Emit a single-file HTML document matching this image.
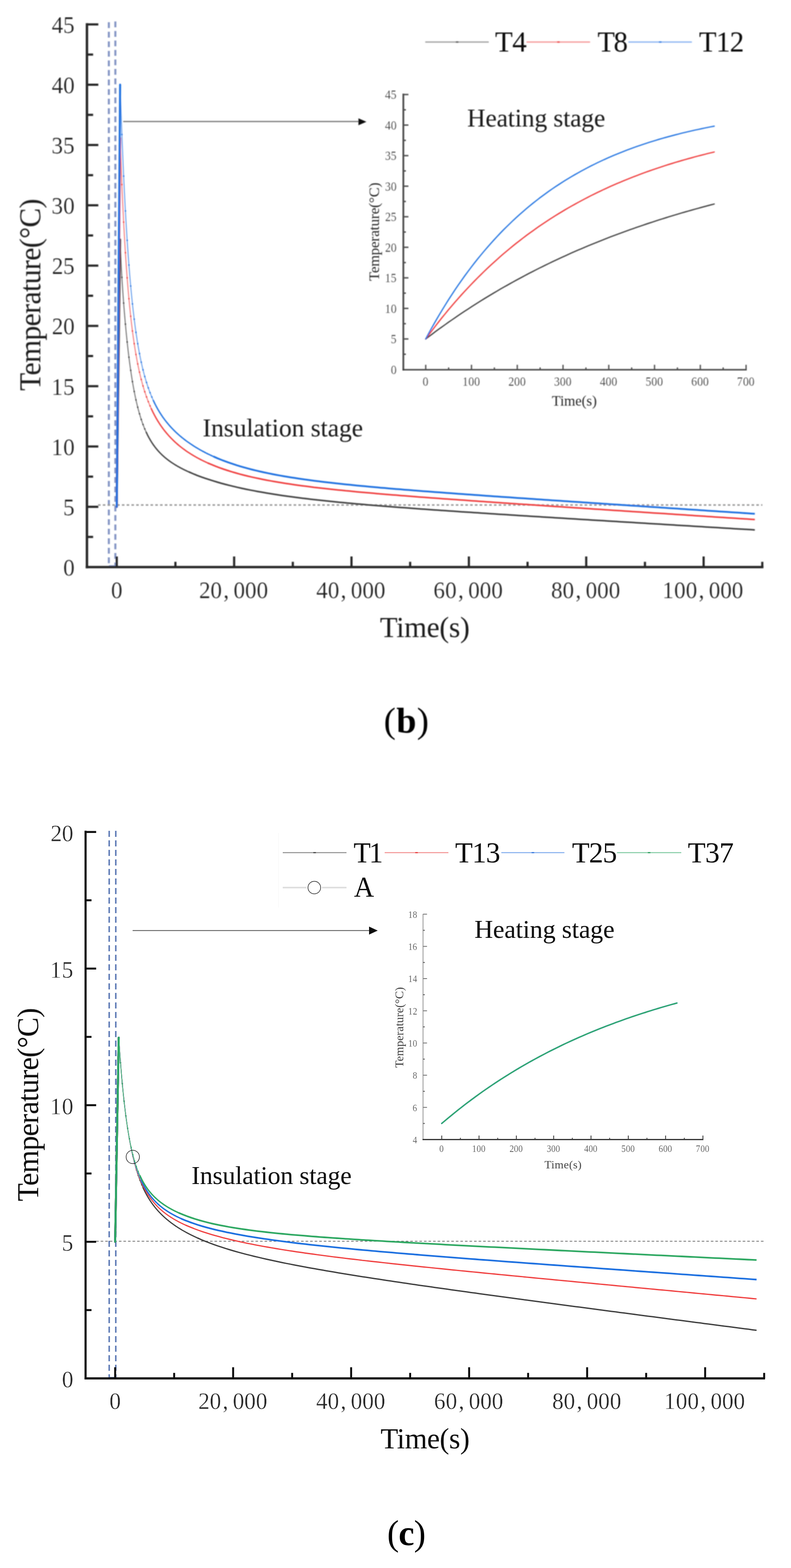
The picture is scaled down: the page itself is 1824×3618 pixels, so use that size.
<!DOCTYPE html>
<html lang="en">
<head>
<meta charset="utf-8">
<title>Temperature curves (b) and (c)</title>
<style>
html,body{margin:0;padding:0;background:#fff;}
body{width:1824px;height:3618px;overflow:hidden;}
svg{display:block;}
svg text{font-family:'Liberation Serif', 'DejaVu Serif', serif;white-space:pre;}
</style>
</head>
<body>
<svg width="1824" height="3618" viewBox="0 0 1824 3618">
<rect width="1824" height="3618" fill="#ffffff"/>
<defs><filter id="soft1" x="0" y="0" width="1824" height="1800" filterUnits="userSpaceOnUse"><feGaussianBlur stdDeviation="0.9"/></filter><filter id="soft2" x="0" y="1800" width="1824" height="1818" filterUnits="userSpaceOnUse"><feGaussianBlur stdDeviation="0.5"/></filter></defs>
<g id="chart-b" filter="url(#soft1)">
<line x1="251.0" y1="51.3" x2="251.0" y2="1307.0" stroke="#8495c5" stroke-width="4.7" stroke-dasharray="13.4 8.65"/>
<line x1="266.0" y1="49.6" x2="266.0" y2="1307.0" stroke="#8495c5" stroke-width="4.7" stroke-dasharray="13.4 8.5"/>
<line x1="251.0" y1="1306.0" x2="266.0" y2="1306.0" stroke="#8495c5" stroke-width="3.4" />
<line x1="226.0" y1="1165.3" x2="1758.0" y2="1165.3" stroke="#9c9c9c" stroke-width="3.4" stroke-dasharray="6 5"/>
<path d="M277.0,552.8 L277.0,553.6 L277.1,554.4 L277.1,555.2 L277.1,556.0 L277.1,556.8 L277.2,557.6 L277.2,558.4 L277.2,559.2 L277.2,560.0 L277.3,560.8 L277.3,561.6 L277.3,562.4 L277.4,563.2 L277.4,564.0 L277.4,564.9 L277.5,565.7 L277.5,566.5 L277.5,567.3 L277.5,568.2 L277.6,569.0 L277.6,569.8 L277.6,570.7 L277.7,571.5 L277.7,572.3 L277.7,573.2 L277.8,574.0 L277.8,574.9 L277.8,575.7 L277.9,576.6 L277.9,577.4 L277.9,578.3 L278.0,579.1 L278.0,580.0 L278.1,580.9 L278.1,581.7 L278.1,582.6 L278.2,583.5 L278.2,584.3 L278.2,585.2 L278.3,586.1 L278.3,586.9 L278.4,587.8 L278.4,588.7 L278.4,589.6 L278.5,590.5 L278.5,591.4 L278.5,592.3 L278.6,593.2 L278.6,594.1 L278.7,595.0 L278.7,595.9 L278.8,596.8 L278.8,597.7 L278.8,598.6 L278.9,599.5 L278.9,600.4 L279.0,601.3 L279.0,602.2 L279.1,603.2 L279.1,604.1 L279.1,605.0 L279.2,605.9 L279.2,606.9 L279.3,607.8 L279.3,608.8 L279.4,609.7 L279.4,610.6 L279.5,611.6 L279.5,612.5 L279.6,613.5 L279.6,614.4 L279.7,615.4 L279.7,616.4 L279.8,617.3 L279.8,618.3 L279.9,619.3 L279.9,620.2 L280.0,621.2 L280.0,622.2 L280.1,623.2 L280.1,624.2 L280.2,625.1 L280.3,626.1 L280.3,627.1 L280.4,628.1 L280.4,629.1 L280.5,630.1 L280.5,631.2 L280.6,632.2 L280.7,633.2 L280.7,634.2 L280.8,635.2 L280.8,636.3 L280.9,637.3 L281.0,638.3 L281.0,639.4 L281.1,640.4 L281.1,641.4 L281.2,642.5 L281.3,643.5 L281.3,644.6 L281.4,645.7 L281.5,646.7 L281.5,647.8 L281.6,648.9 L281.7,650.0 L281.7,651.0 L281.8,652.1 L281.9,653.2 L281.9,654.3 L282.0,655.4 L282.1,656.5 L282.2,657.6 L282.2,658.7 L282.3,659.8 L282.4,661.0 L282.5,662.1 L282.5,663.2 L282.6,664.4 L282.7,665.5 L282.8,666.6 L282.8,667.8 L282.9,668.9 L283.0,670.1 L283.1,671.3 L283.2,672.4 L283.2,673.6 L283.3,674.8 L283.4,676.0 L283.5,677.2 L283.6,678.4 L283.7,679.6 L283.7,680.8 L283.8,682.0 L283.9,683.2 L284.0,684.4 L284.1,685.6 L284.2,686.9 L284.3,688.1 L284.4,689.3 L284.5,690.6 L284.6,691.8 L284.6,693.1 L284.7,694.4 L284.8,695.6 L284.9,696.9 L285.0,698.2 L285.1,699.5 L285.2,700.7 L285.3,702.0 L285.4,703.3 L285.5,704.6 L285.6,706.0 L285.7,707.3 L285.8,708.6 L285.9,709.9 L286.1,711.3 L286.2,712.6 L286.3,713.9 L286.4,715.3 L286.5,716.6 L286.6,718.0 L286.7,719.4 L286.8,720.7 L286.9,722.1 L287.1,723.5 L287.2,724.9 L287.3,726.3 L287.4,727.7 L287.5,729.1 L287.6,730.5 L287.8,731.9 L287.9,733.3 L288.0,734.8 L288.1,736.2 L288.3,737.6 L288.4,739.1 L288.5,740.5 L288.6,742.0 L288.8,743.4 L288.9,744.9 L289.0,746.4 L289.2,747.8 L289.3,749.3 L289.4,750.8 L289.6,752.3 L289.7,753.8 L289.9,755.3 L290.0,756.8 L290.1,758.3 L290.3,759.8 L290.4,761.3 L290.6,762.8 L290.7,764.4 L290.9,765.9 L291.0,767.4 L291.2,769.0 L291.3,770.5 L291.5,772.1 L291.6,773.6 L291.8,775.2 L292.0,776.8 L292.1,778.3 L292.3,779.9 L292.4,781.5 L292.6,783.0 L292.8,784.6 L292.9,786.2 L293.1,787.8 L293.3,789.4 L293.4,791.0 L293.6,792.6 L293.8,794.2 L294.0,795.8 L294.1,797.4 L294.3,799.0 L294.5,800.7 L294.7,802.3 L294.9,803.9 L295.1,805.5 L295.2,807.2 L295.4,808.8 L295.6,810.4 L295.8,812.1 L296.0,813.7 L296.2,815.4 L296.4,817.0 L296.6,818.7 L296.8,820.3 L297.0,822.0 L297.2,823.6 L297.4,825.3 L297.6,826.9 L297.8,828.6 L298.1,830.3 L298.3,831.9 L298.5,833.6 L298.7,835.3 L298.9,836.9 L299.1,838.6 L299.4,840.3 L299.6,841.9 L299.8,843.6 L300.1,845.3 L300.3,847.0 L300.5,848.6 L300.8,850.3 L301.0,852.0 L301.2,853.7 L301.5,855.3 L301.7,857.0 L302.0,858.7 L302.2,860.4 L302.5,862.0 L302.7,863.7 L303.0,865.4 L303.2,867.0 L303.5,868.7 L303.8,870.4 L304.0,872.0 L304.3,873.7 L304.6,875.4 L304.8,877.0 L305.1,878.7 L305.4,880.4 L305.7,882.0 L305.9,883.7 L306.2,885.3 L306.5,887.0 L306.8,888.6 L307.1,890.3 L307.4,891.9 L307.7,893.6 L308.0,895.2 L308.3,896.9 L308.6,898.5 L308.9,900.1 L309.2,901.8 L309.5,903.4 L309.8,905.0 L310.2,906.6 L310.5,908.2 L310.8,909.9 L311.1,911.5 L311.5,913.1 L311.8,914.7 L312.1,916.3 L312.5,917.9 L312.8,919.4 L313.2,921.0 L313.5,922.6 L313.9,924.2 L314.2,925.7 L314.6,927.3 L314.9,928.9 L315.3,930.4 L315.7,932.0 L316.0,933.5 L316.4,935.1 L316.8,936.6 L317.2,938.1 L317.5,939.6 L317.9,941.1 L318.3,942.7 L318.7,944.2 L319.1,945.7 L319.5,947.1 L319.9,948.6 L320.3,950.1 L320.7,951.6 L321.2,953.0 L321.6,954.5 L322.0,956.0 L322.4,957.4 L322.9,958.8 L323.3,960.3 L323.7,961.7 L324.2,963.1 L324.6,964.5 L325.1,965.9 L325.5,967.3 L326.0,968.7 L326.5,970.1 L326.9,971.5 L327.4,972.8 L327.9,974.2 L328.3,975.5 L328.8,976.9 L329.3,978.2 L329.8,979.6 L330.3,980.9 L330.8,982.2 L331.3,983.5 L331.8,984.8 L332.3,986.1 L332.9,987.4 L333.4,988.6 L333.9,989.9 L334.4,991.2 L335.0,992.4 L335.5,993.7 L336.1,994.9 L336.6,996.1 L337.2,997.3 L337.7,998.5 L338.3,999.7" fill="none" stroke="#666666" stroke-width="2.1" stroke-linejoin="round" />
<path d="M269.2,1169.4 L277.0,552.8" fill="none" stroke="#3d3d3d" stroke-width="4.6" stroke-linejoin="round" stroke-linecap="round"/>
<path d="M281.1,640.0h0M285.1,699.3h0M289.2,747.9h0M293.2,789.1h0M297.3,824.3h0M301.4,854.5h0M305.4,880.6h0M309.5,903.2h0M313.5,922.8h0M317.6,939.8h0M321.7,954.8h0M325.7,967.9h0M329.8,979.5h0M333.8,989.7h0" fill="none" stroke="#3d3d3d" stroke-width="3.6" stroke-linecap="round"/>
<path d="M337.2,997.3 L337.7,998.5 L338.3,999.7 L338.9,1000.9 L339.5,1002.1 L340.0,1003.3 L340.6,1004.5 L341.2,1005.6 L341.8,1006.8 L342.4,1007.9 L343.0,1009.1 L343.6,1010.2 L344.3,1011.3 L344.9,1012.4 L345.5,1013.5 L346.2,1014.6 L346.8,1015.7 L347.4,1016.8 L348.1,1017.9 L348.8,1018.9 L349.4,1020.0 L350.1,1021.1 L350.8,1022.1 L351.5,1023.1 L352.1,1024.2 L352.8,1025.2 L353.5,1026.2 L354.2,1027.2 L355.0,1028.2 L355.7,1029.2 L356.4,1030.2 L357.1,1031.1 L357.9,1032.1 L358.6,1033.1 L359.4,1034.0 L360.1,1035.0 L360.9,1035.9 L361.7,1036.8 L362.5,1037.8 L363.2,1038.7 L364.0,1039.6 L364.8,1040.5 L365.7,1041.4 L366.5,1042.3 L367.3,1043.2 L368.1,1044.1 L369.0,1044.9 L369.8,1045.8 L370.7,1046.7 L371.5,1047.5 L372.4,1048.4 L373.3,1049.2 L374.1,1050.1 L375.0,1050.9 L375.9,1051.7 L376.8,1052.5 L377.8,1053.3 L378.7,1054.2 L379.6,1055.0 L380.5,1055.8 L381.5,1056.6 L382.5,1057.3 L383.4,1058.1 L384.4,1058.9 L385.4,1059.7 L386.4,1060.5 L387.4,1061.2 L388.4,1062.0 L389.4,1062.7 L390.4,1063.5 L391.5,1064.2 L392.5,1065.0 L393.6,1065.7 L394.6,1066.5 L395.7,1067.2 L396.8,1067.9 L397.9,1068.6 L399.0,1069.4 L400.1,1070.1 L401.2,1070.8 L402.3,1071.5 L403.5,1072.2 L404.6,1072.9 L405.8,1073.6 L407.0,1074.3 L408.1,1075.0 L409.3,1075.7 L410.5,1076.4 L411.8,1077.1 L413.0,1077.7 L414.2,1078.4 L415.5,1079.1 L416.7,1079.8 L418.0,1080.4 L419.3,1081.1 L420.6,1081.8 L421.9,1082.4 L423.2,1083.1 L424.5,1083.8 L425.9,1084.4 L427.2,1085.1 L428.6,1085.7 L429.9,1086.4 L431.3,1087.0 L432.7,1087.7 L434.1,1088.3 L435.6,1088.9 L437.0,1089.6" fill="none" stroke="#3d3d3d" stroke-width="3.0" stroke-linejoin="round" stroke-linecap="round"/>
<path d="M435.6,1088.9 L445.0,1093.0 L454.3,1096.8 L463.7,1100.3 L473.1,1103.6 L482.5,1106.7 L491.9,1109.7 L501.3,1112.5 L510.7,1115.2 L520.1,1117.7 L529.5,1120.1 L538.8,1122.4 L548.2,1124.6 L557.6,1126.7 L567.0,1128.7 L576.4,1130.6 L585.8,1132.4 L595.2,1134.2 L604.6,1135.8 L614.0,1137.5 L623.3,1139.0 L632.7,1140.5 L642.1,1142.0 L651.5,1143.4 L660.9,1144.7 L670.3,1146.0 L679.7,1147.3 L689.1,1148.5 L698.5,1149.7 L707.8,1150.8 L717.2,1151.9 L726.6,1153.0 L736.0,1154.1 L745.4,1155.1 L754.8,1156.1 L764.2,1157.0 L773.6,1158.0 L783.0,1158.9 L792.3,1159.8 L801.7,1160.7 L811.1,1161.6 L820.5,1162.4 L829.9,1163.3 L839.3,1164.1 L848.7,1164.9 L858.1,1165.7 L867.5,1166.5 L876.8,1167.2 L886.2,1168.0 L895.6,1168.7 L905.0,1169.5 L914.4,1170.2 L923.8,1170.9 L933.2,1171.6 L942.6,1172.3 L951.9,1173.0 L961.3,1173.7 L970.7,1174.4 L980.1,1175.0 L989.5,1175.7 L998.9,1176.4 L1008.3,1177.0 L1017.7,1177.7 L1027.1,1178.3 L1036.4,1179.0 L1045.8,1179.6 L1055.2,1180.2 L1064.6,1180.9 L1074.0,1181.5 L1083.4,1182.1 L1092.8,1182.7 L1102.2,1183.3 L1111.6,1184.0 L1120.9,1184.6 L1130.3,1185.2 L1139.7,1185.8 L1149.1,1186.4 L1158.5,1187.0 L1167.9,1187.6 L1177.3,1188.2 L1186.7,1188.8 L1196.1,1189.4 L1205.4,1190.0 L1214.8,1190.6 L1224.2,1191.2 L1233.6,1191.7 L1243.0,1192.3 L1252.4,1192.9 L1261.8,1193.5 L1271.2,1194.1 L1280.6,1194.7 L1289.9,1195.3 L1299.3,1195.8 L1308.7,1196.4 L1318.1,1197.0 L1327.5,1197.6 L1336.9,1198.2 L1346.3,1198.7 L1355.7,1199.3 L1365.1,1199.9 L1374.4,1200.5 L1383.8,1201.0 L1393.2,1201.6 L1402.6,1202.2 L1412.0,1202.8 L1421.4,1203.3 L1430.8,1203.9 L1440.2,1204.5 L1449.6,1205.1 L1458.9,1205.6 L1468.3,1206.2 L1477.7,1206.8 L1487.1,1207.3 L1496.5,1207.9 L1505.9,1208.5 L1515.3,1209.1 L1524.7,1209.6 L1534.0,1210.2 L1543.4,1210.8 L1552.8,1211.3 L1562.2,1211.9 L1571.6,1212.5 L1581.0,1213.0 L1590.4,1213.6 L1599.8,1214.2 L1609.2,1214.7 L1618.5,1215.3 L1627.9,1215.9 L1637.3,1216.5 L1646.7,1217.0 L1656.1,1217.6 L1665.5,1218.2 L1674.9,1218.7 L1684.3,1219.3 L1693.7,1219.9 L1703.0,1220.4 L1712.4,1221.0 L1721.8,1221.6 L1731.2,1222.1 L1740.6,1222.7" fill="none" stroke="#3d3d3d" stroke-width="3.5" stroke-linejoin="round" stroke-linecap="butt"/>
<path d="M277.0,318.6 L277.0,319.4 L277.1,320.2 L277.1,321.0 L277.1,321.8 L277.1,322.6 L277.2,323.4 L277.2,324.2 L277.2,325.1 L277.2,325.9 L277.3,326.7 L277.3,327.6 L277.3,328.4 L277.4,329.3 L277.4,330.1 L277.4,331.0 L277.5,331.9 L277.5,332.8 L277.5,333.7 L277.5,334.6 L277.6,335.5 L277.6,336.4 L277.6,337.3 L277.7,338.2 L277.7,339.1 L277.7,340.1 L277.8,341.0 L277.8,342.0 L277.8,342.9 L277.9,343.9 L277.9,344.8 L277.9,345.8 L278.0,346.8 L278.0,347.8 L278.1,348.8 L278.1,349.8 L278.1,350.8 L278.2,351.8 L278.2,352.8 L278.2,353.9 L278.3,354.9 L278.3,355.9 L278.4,357.0 L278.4,358.0 L278.4,359.1 L278.5,360.2 L278.5,361.3 L278.5,362.4 L278.6,363.4 L278.6,364.5 L278.7,365.7 L278.7,366.8 L278.8,367.9 L278.8,369.0 L278.8,370.2 L278.9,371.3 L278.9,372.5 L279.0,373.6 L279.0,374.8 L279.1,376.0 L279.1,377.2 L279.1,378.3 L279.2,379.5 L279.2,380.8 L279.3,382.0 L279.3,383.2 L279.4,384.4 L279.4,385.7 L279.5,386.9 L279.5,388.2 L279.6,389.4 L279.6,390.7 L279.7,392.0 L279.7,393.2 L279.8,394.5 L279.8,395.8 L279.9,397.2 L279.9,398.5 L280.0,399.8 L280.0,401.1 L280.1,402.5 L280.1,403.8 L280.2,405.2 L280.3,406.5 L280.3,407.9 L280.4,409.3 L280.4,410.7 L280.5,412.1 L280.5,413.5 L280.6,414.9 L280.7,416.3 L280.7,417.7 L280.8,419.2 L280.8,420.6 L280.9,422.1 L281.0,423.5 L281.0,425.0 L281.1,426.5 L281.1,428.0 L281.2,429.5 L281.3,431.0 L281.3,432.5 L281.4,434.0 L281.5,435.5 L281.5,437.1 L281.6,438.6 L281.7,440.2 L281.7,441.7 L281.8,443.3 L281.9,444.9 L281.9,446.5 L282.0,448.1 L282.1,449.7 L282.2,451.3 L282.2,452.9 L282.3,454.5 L282.4,456.2 L282.5,457.8 L282.5,459.5 L282.6,461.1 L282.7,462.8 L282.8,464.5 L282.8,466.1 L282.9,467.8 L283.0,469.5 L283.1,471.3 L283.2,473.0 L283.2,474.7 L283.3,476.4 L283.4,478.2 L283.5,479.9 L283.6,481.7 L283.7,483.4 L283.7,485.2 L283.8,487.0 L283.9,488.8 L284.0,490.6 L284.1,492.4 L284.2,494.2 L284.3,496.0 L284.4,497.8 L284.5,499.7 L284.6,501.5 L284.6,503.4 L284.7,505.2 L284.8,507.1 L284.9,509.0 L285.0,510.8 L285.1,512.7 L285.2,514.6 L285.3,516.5 L285.4,518.4 L285.5,520.3 L285.6,522.3 L285.7,524.2 L285.8,526.1 L285.9,528.1 L286.1,530.0 L286.2,532.0 L286.3,534.0 L286.4,535.9 L286.5,537.9 L286.6,539.9 L286.7,541.9 L286.8,543.9 L286.9,545.9 L287.1,547.9 L287.2,549.9 L287.3,552.0 L287.4,554.0 L287.5,556.0 L287.6,558.1 L287.8,560.1 L287.9,562.2 L288.0,564.2 L288.1,566.3 L288.3,568.4 L288.4,570.4 L288.5,572.5 L288.6,574.6 L288.8,576.7 L288.9,578.8 L289.0,580.9 L289.2,583.0 L289.3,585.1 L289.4,587.3 L289.6,589.4 L289.7,591.5 L289.9,593.6 L290.0,595.8 L290.1,597.9 L290.3,600.1 L290.4,602.2 L290.6,604.4 L290.7,606.5 L290.9,608.7 L291.0,610.9 L291.2,613.0 L291.3,615.2 L291.5,617.4 L291.6,619.6 L291.8,621.8 L292.0,624.0 L292.1,626.2 L292.3,628.4 L292.4,630.5 L292.6,632.8 L292.8,635.0 L292.9,637.2 L293.1,639.4 L293.3,641.6 L293.4,643.8 L293.6,646.0 L293.8,648.2 L294.0,650.5 L294.1,652.7 L294.3,654.9 L294.5,657.1 L294.7,659.4 L294.9,661.6 L295.1,663.8 L295.2,666.0 L295.4,668.3 L295.6,670.5 L295.8,672.7 L296.0,675.0 L296.2,677.2 L296.4,679.4 L296.6,681.7 L296.8,683.9 L297.0,686.2 L297.2,688.4 L297.4,690.6 L297.6,692.9 L297.8,695.1 L298.1,697.3 L298.3,699.6 L298.5,701.8 L298.7,704.0 L298.9,706.3 L299.1,708.5 L299.4,710.7 L299.6,712.9 L299.8,715.2 L300.1,717.4 L300.3,719.6 L300.5,721.8 L300.8,724.1 L301.0,726.3 L301.2,728.5 L301.5,730.7 L301.7,732.9 L302.0,735.1 L302.2,737.3 L302.5,739.5 L302.7,741.7 L303.0,743.9 L303.2,746.1 L303.5,748.3 L303.8,750.5 L304.0,752.6 L304.3,754.8 L304.6,757.0 L304.8,759.1 L305.1,761.3 L305.4,763.5 L305.7,765.6 L305.9,767.8 L306.2,769.9 L306.5,772.1 L306.8,774.2 L307.1,776.3 L307.4,778.5 L307.7,780.6 L308.0,782.7 L308.3,784.8 L308.6,786.9 L308.9,789.0 L309.2,791.1 L309.5,793.2 L309.8,795.3 L310.2,797.4 L310.5,799.4 L310.8,801.5 L311.1,803.6 L311.5,805.6 L311.8,807.7 L312.1,809.7 L312.5,811.8 L312.8,813.8 L313.2,815.8 L313.5,817.8 L313.9,819.8 L314.2,821.8 L314.6,823.8 L314.9,825.8 L315.3,827.8 L315.7,829.8 L316.0,831.7 L316.4,833.7 L316.8,835.7 L317.2,837.6 L317.5,839.5 L317.9,841.5 L318.3,843.4 L318.7,845.3 L319.1,847.2 L319.5,849.1 L319.9,851.0 L320.3,852.9 L320.7,854.8 L321.2,856.6 L321.6,858.5 L322.0,860.4 L322.4,862.2 L322.9,864.0 L323.3,865.9 L323.7,867.7 L324.2,869.5 L324.6,871.3 L325.1,873.1 L325.5,874.9 L326.0,876.7 L326.5,878.5 L326.9,880.2 L327.4,882.0 L327.9,883.7 L328.3,885.5 L328.8,887.2 L329.3,888.9 L329.8,890.6 L330.3,892.4 L330.8,894.1 L331.3,895.7 L331.8,897.4 L332.3,899.1 L332.9,900.8 L333.4,902.4 L333.9,904.1 L334.4,905.7 L335.0,907.4 L335.5,909.0 L336.1,910.6 L336.6,912.2 L337.2,913.8 L337.7,915.4 L338.3,917.0 L338.9,918.6 L339.5,920.2 L340.0,921.7 L340.6,923.3 L341.2,924.8 L341.8,926.4 L342.4,927.9 L343.0,929.4 L343.6,930.9 L344.3,932.4 L344.9,933.9 L345.5,935.4 L346.2,936.9 L346.8,938.4 L347.4,939.9 L348.1,941.3 L348.8,942.8 L349.4,944.2 L350.1,945.7" fill="none" stroke="#f27272" stroke-width="2.1" stroke-linejoin="round" />
<path d="M269.2,1169.4 L277.0,318.6" fill="none" stroke="#ef3a3a" stroke-width="4.6" stroke-linejoin="round" stroke-linecap="round"/>
<path d="M281.1,425.9h0M285.1,512.5h0M289.2,583.1h0M293.2,641.1h0M297.3,689.3h0M301.4,729.7h0M305.4,763.8h0M309.5,792.9h0M313.5,818.0h0M317.6,839.8h0M321.7,858.8h0M325.7,875.6h0M329.8,890.5h0M333.8,903.9h0M337.9,915.9h0M342.0,926.7h0M346.0,936.6h0" fill="none" stroke="#ef3a3a" stroke-width="3.6" stroke-linecap="round"/>
<path d="M348.8,942.8 L349.4,944.2 L350.1,945.7 L350.8,947.1 L351.5,948.5 L352.1,949.9 L352.8,951.3 L353.5,952.7 L354.2,954.1 L355.0,955.5 L355.7,956.9 L356.4,958.3 L357.1,959.6 L357.9,961.0 L358.6,962.3 L359.4,963.7 L360.1,965.0 L360.9,966.4 L361.7,967.7 L362.5,969.0 L363.2,970.3 L364.0,971.6 L364.8,972.9 L365.7,974.2 L366.5,975.5 L367.3,976.8 L368.1,978.0 L369.0,979.3 L369.8,980.6 L370.7,981.8 L371.5,983.0 L372.4,984.3 L373.3,985.5 L374.1,986.7 L375.0,988.0 L375.9,989.2 L376.8,990.4 L377.8,991.6 L378.7,992.8 L379.6,994.0 L380.5,995.2 L381.5,996.3 L382.5,997.5 L383.4,998.7 L384.4,999.8 L385.4,1001.0 L386.4,1002.1 L387.4,1003.3 L388.4,1004.4 L389.4,1005.6 L390.4,1006.7 L391.5,1007.8 L392.5,1008.9 L393.6,1010.0 L394.6,1011.1 L395.7,1012.2 L396.8,1013.3 L397.9,1014.4 L399.0,1015.5 L400.1,1016.6 L401.2,1017.6 L402.3,1018.7 L403.5,1019.8 L404.6,1020.8 L405.8,1021.9 L407.0,1022.9 L408.1,1024.0 L409.3,1025.0 L410.5,1026.0 L411.8,1027.1 L413.0,1028.1 L414.2,1029.1 L415.5,1030.1 L416.7,1031.1 L418.0,1032.1 L419.3,1033.1 L420.6,1034.1 L421.9,1035.1 L423.2,1036.1 L424.5,1037.0 L425.9,1038.0 L427.2,1039.0 L428.6,1040.0 L429.9,1040.9 L431.3,1041.9 L432.7,1042.8 L434.1,1043.8 L435.6,1044.7 L437.0,1045.6 L438.5,1046.6 L439.9,1047.5 L441.4,1048.4 L442.9,1049.3 L444.4,1050.2 L445.9,1051.1 L447.4,1052.0 L449.0,1052.9 L450.5,1053.8 L452.1,1054.7 L453.7,1055.6 L455.3,1056.5 L456.9,1057.3 L458.5,1058.2 L460.2,1059.1 L461.8,1059.9 L463.5,1060.8 L465.2,1061.7 L466.9,1062.5 L468.6,1063.3 L470.3,1064.2 L472.1,1065.0 L473.8,1065.8 L475.6,1066.7 L477.4,1067.5 L479.2,1068.3 L481.1,1069.1" fill="none" stroke="#ef3a3a" stroke-width="3.0" stroke-linejoin="round" stroke-linecap="round"/>
<path d="M479.2,1068.3 L488.3,1072.2 L497.4,1075.9 L506.5,1079.3 L515.5,1082.5 L524.6,1085.5 L533.7,1088.4 L542.7,1091.0 L551.8,1093.6 L560.9,1096.0 L570.0,1098.2 L579.0,1100.4 L588.1,1102.4 L597.2,1104.3 L606.3,1106.2 L615.3,1108.0 L624.4,1109.6 L633.5,1111.3 L642.6,1112.8 L651.6,1114.3 L660.7,1115.7 L669.8,1117.1 L678.9,1118.4 L687.9,1119.7 L697.0,1120.9 L706.1,1122.1 L715.2,1123.2 L724.2,1124.4 L733.3,1125.4 L742.4,1126.5 L751.5,1127.5 L760.5,1128.5 L769.6,1129.5 L778.7,1130.4 L787.8,1131.3 L796.8,1132.3 L805.9,1133.1 L815.0,1134.0 L824.1,1134.9 L833.1,1135.7 L842.2,1136.5 L851.3,1137.3 L860.4,1138.1 L869.4,1138.9 L878.5,1139.7 L887.6,1140.4 L896.7,1141.2 L905.7,1141.9 L914.8,1142.6 L923.9,1143.4 L933.0,1144.1 L942.0,1144.8 L951.1,1145.5 L960.2,1146.2 L969.3,1146.9 L978.3,1147.5 L987.4,1148.2 L996.5,1148.9 L1005.6,1149.6 L1014.6,1150.2 L1023.7,1150.9 L1032.8,1151.5 L1041.9,1152.2 L1050.9,1152.8 L1060.0,1153.5 L1069.1,1154.1 L1078.2,1154.8 L1087.2,1155.4 L1096.3,1156.0 L1105.4,1156.7 L1114.5,1157.3 L1123.5,1157.9 L1132.6,1158.6 L1141.7,1159.2 L1150.7,1159.8 L1159.8,1160.4 L1168.9,1161.0 L1178.0,1161.7 L1187.0,1162.3 L1196.1,1162.9 L1205.2,1163.5 L1214.3,1164.1 L1223.3,1164.7 L1232.4,1165.3 L1241.5,1165.9 L1250.6,1166.6 L1259.6,1167.2 L1268.7,1167.8 L1277.8,1168.4 L1286.9,1169.0 L1295.9,1169.6 L1305.0,1170.2 L1314.1,1170.8 L1323.2,1171.4 L1332.2,1172.0 L1341.3,1172.6 L1350.4,1173.2 L1359.5,1173.8 L1368.5,1174.4 L1377.6,1175.0 L1386.7,1175.6 L1395.8,1176.2 L1404.8,1176.8 L1413.9,1177.4 L1423.0,1178.0 L1432.1,1178.6 L1441.1,1179.2 L1450.2,1179.8 L1459.3,1180.4 L1468.4,1181.0 L1477.4,1181.6 L1486.5,1182.2 L1495.6,1182.8 L1504.7,1183.4 L1513.7,1184.0 L1522.8,1184.5 L1531.9,1185.1 L1541.0,1185.7 L1550.0,1186.3 L1559.1,1186.9 L1568.2,1187.5 L1577.3,1188.1 L1586.3,1188.7 L1595.4,1189.3 L1604.5,1189.9 L1613.6,1190.5 L1622.6,1191.1 L1631.7,1191.7 L1640.8,1192.3 L1649.9,1192.9 L1658.9,1193.5 L1668.0,1194.1 L1677.1,1194.7 L1686.2,1195.2 L1695.2,1195.8 L1704.3,1196.4 L1713.4,1197.0 L1722.5,1197.6 L1731.5,1198.2 L1740.6,1198.8" fill="none" stroke="#ef3a3a" stroke-width="3.5" stroke-linejoin="round" stroke-linecap="butt"/>
<path d="M277.0,195.3 L277.0,196.1 L277.1,197.0 L277.1,197.8 L277.1,198.6 L277.1,199.5 L277.2,200.4 L277.2,201.2 L277.2,202.1 L277.2,203.0 L277.3,203.9 L277.3,204.8 L277.3,205.7 L277.4,206.6 L277.4,207.5 L277.4,208.4 L277.5,209.3 L277.5,210.3 L277.5,211.2 L277.5,212.1 L277.6,213.1 L277.6,214.1 L277.6,215.0 L277.7,216.0 L277.7,217.0 L277.7,218.0 L277.8,219.0 L277.8,220.0 L277.8,221.0 L277.9,222.0 L277.9,223.0 L277.9,224.1 L278.0,225.1 L278.0,226.2 L278.1,227.2 L278.1,228.3 L278.1,229.4 L278.2,230.4 L278.2,231.5 L278.2,232.6 L278.3,233.7 L278.3,234.9 L278.4,236.0 L278.4,237.1 L278.4,238.2 L278.5,239.4 L278.5,240.5 L278.5,241.7 L278.6,242.9 L278.6,244.0 L278.7,245.2 L278.7,246.4 L278.8,247.6 L278.8,248.8 L278.8,250.1 L278.9,251.3 L278.9,252.5 L279.0,253.8 L279.0,255.0 L279.1,256.3 L279.1,257.6 L279.1,258.8 L279.2,260.1 L279.2,261.4 L279.3,262.7 L279.3,264.0 L279.4,265.4 L279.4,266.7 L279.5,268.0 L279.5,269.4 L279.6,270.7 L279.6,272.1 L279.7,273.5 L279.7,274.9 L279.8,276.3 L279.8,277.7 L279.9,279.1 L279.9,280.5 L280.0,282.0 L280.0,283.4 L280.1,284.8 L280.1,286.3 L280.2,287.8 L280.3,289.3 L280.3,290.7 L280.4,292.2 L280.4,293.8 L280.5,295.3 L280.5,296.8 L280.6,298.3 L280.7,299.9 L280.7,301.4 L280.8,303.0 L280.8,304.6 L280.9,306.2 L281.0,307.8 L281.0,309.4 L281.1,311.0 L281.1,312.6 L281.2,314.2 L281.3,315.9 L281.3,317.5 L281.4,319.2 L281.5,320.9 L281.5,322.6 L281.6,324.3 L281.7,326.0 L281.7,327.7 L281.8,329.4 L281.9,331.1 L281.9,332.9 L282.0,334.6 L282.1,336.4 L282.2,338.2 L282.2,340.0 L282.3,341.8 L282.4,343.6 L282.5,345.4 L282.5,347.2 L282.6,349.0 L282.7,350.9 L282.8,352.7 L282.8,354.6 L282.9,356.5 L283.0,358.4 L283.1,360.3 L283.2,362.2 L283.2,364.1 L283.3,366.0 L283.4,367.9 L283.5,369.9 L283.6,371.8 L283.7,373.8 L283.7,375.8 L283.8,377.8 L283.9,379.8 L284.0,381.8 L284.1,383.8 L284.2,385.8 L284.3,387.8 L284.4,389.9 L284.5,392.0 L284.6,394.0 L284.6,396.1 L284.7,398.2 L284.8,400.3 L284.9,402.4 L285.0,404.5 L285.1,406.6 L285.2,408.8 L285.3,410.9 L285.4,413.1 L285.5,415.2 L285.6,417.4 L285.7,419.6 L285.8,421.8 L285.9,424.0 L286.1,426.2 L286.2,428.4 L286.3,430.6 L286.4,432.9 L286.5,435.1 L286.6,437.4 L286.7,439.6 L286.8,441.9 L286.9,444.2 L287.1,446.5 L287.2,448.8 L287.3,451.1 L287.4,453.4 L287.5,455.7 L287.6,458.1 L287.8,460.4 L287.9,462.8 L288.0,465.1 L288.1,467.5 L288.3,469.9 L288.4,472.3 L288.5,474.7 L288.6,477.1 L288.8,479.5 L288.9,481.9 L289.0,484.3 L289.2,486.8 L289.3,489.2 L289.4,491.7 L289.6,494.1 L289.7,496.6 L289.9,499.1 L290.0,501.5 L290.1,504.0 L290.3,506.5 L290.4,509.0 L290.6,511.5 L290.7,514.0 L290.9,516.6 L291.0,519.1 L291.2,521.6 L291.3,524.1 L291.5,526.7 L291.6,529.2 L291.8,531.8 L292.0,534.4 L292.1,536.9 L292.3,539.5 L292.4,542.1 L292.6,544.7 L292.8,547.2 L292.9,549.8 L293.1,552.4 L293.3,555.0 L293.4,557.6 L293.6,560.3 L293.8,562.9 L294.0,565.5 L294.1,568.1 L294.3,570.7 L294.5,573.4 L294.7,576.0 L294.9,578.7 L295.1,581.3 L295.2,583.9 L295.4,586.6 L295.6,589.2 L295.8,591.9 L296.0,594.5 L296.2,597.2 L296.4,599.9 L296.6,602.5 L296.8,605.2 L297.0,607.9 L297.2,610.5 L297.4,613.2 L297.6,615.9 L297.8,618.5 L298.1,621.2 L298.3,623.9 L298.5,626.5 L298.7,629.2 L298.9,631.9 L299.1,634.6 L299.4,637.2 L299.6,639.9 L299.8,642.6 L300.1,645.2 L300.3,647.9 L300.5,650.6 L300.8,653.2 L301.0,655.9 L301.2,658.6 L301.5,661.2 L301.7,663.9 L302.0,666.6 L302.2,669.2 L302.5,671.9 L302.7,674.5 L303.0,677.2 L303.2,679.8 L303.5,682.5 L303.8,685.1 L304.0,687.7 L304.3,690.4 L304.6,693.0 L304.8,695.6 L305.1,698.2 L305.4,700.8 L305.7,703.4 L305.9,706.0 L306.2,708.6 L306.5,711.2 L306.8,713.8 L307.1,716.4 L307.4,719.0 L307.7,721.6 L308.0,724.1 L308.3,726.7 L308.6,729.2 L308.9,731.8 L309.2,734.3 L309.5,736.8 L309.8,739.4 L310.2,741.9 L310.5,744.4 L310.8,746.9 L311.1,749.4 L311.5,751.9 L311.8,754.3 L312.1,756.8 L312.5,759.3 L312.8,761.7 L313.2,764.2 L313.5,766.6 L313.9,769.0 L314.2,771.5 L314.6,773.9 L314.9,776.3 L315.3,778.7 L315.7,781.0 L316.0,783.4 L316.4,785.8 L316.8,788.1 L317.2,790.5 L317.5,792.8 L317.9,795.1 L318.3,797.4 L318.7,799.7 L319.1,802.0 L319.5,804.3 L319.9,806.5 L320.3,808.8 L320.7,811.0 L321.2,813.3 L321.6,815.5 L322.0,817.7 L322.4,819.9 L322.9,822.1 L323.3,824.3 L323.7,826.4 L324.2,828.6 L324.6,830.7 L325.1,832.9 L325.5,835.0 L326.0,837.1 L326.5,839.2 L326.9,841.2 L327.4,843.3 L327.9,845.4 L328.3,847.4 L328.8,849.4 L329.3,851.5 L329.8,853.5 L330.3,855.5 L330.8,857.5 L331.3,859.4 L331.8,861.4 L332.3,863.3 L332.9,865.3 L333.4,867.2 L333.9,869.1 L334.4,871.0 L335.0,872.9 L335.5,874.8 L336.1,876.6 L336.6,878.5 L337.2,880.3 L337.7,882.1 L338.3,883.9 L338.9,885.7 L339.5,887.5 L340.0,889.3 L340.6,891.1 L341.2,892.8 L341.8,894.6 L342.4,896.3 L343.0,898.0 L343.6,899.7 L344.3,901.4 L344.9,903.1 L345.5,904.8 L346.2,906.4 L346.8,908.1 L347.4,909.7 L348.1,911.3 L348.8,912.9 L349.4,914.5 L350.1,916.1 L350.8,917.7 L351.5,919.3 L352.1,920.8 L352.8,922.4 L353.5,923.9 L354.2,925.4 L355.0,927.0" fill="none" stroke="#5a96ea" stroke-width="2.1" stroke-linejoin="round" />
<path d="M269.2,1169.4 L277.0,195.3" fill="none" stroke="#1f6fe0" stroke-width="4.6" stroke-linejoin="round" stroke-linecap="round"/>
<path d="M281.1,310.4h0M285.1,406.4h0M289.2,486.8h0M293.2,554.5h0M297.3,611.6h0M301.4,660.0h0M305.4,701.2h0M309.5,736.5h0M313.5,766.9h0M317.6,793.1h0M321.7,815.9h0M325.7,835.8h0M329.8,853.4h0M333.8,868.9h0M337.9,882.6h0M342.0,895.0h0M346.0,906.1h0M350.1,916.1h0" fill="none" stroke="#1f6fe0" stroke-width="3.6" stroke-linecap="round"/>
<path d="M353.5,923.9 L354.2,925.4 L355.0,927.0 L355.7,928.5 L356.4,930.0 L357.1,931.5 L357.9,932.9 L358.6,934.4 L359.4,935.9 L360.1,937.3 L360.9,938.7 L361.7,940.2 L362.5,941.6 L363.2,943.0 L364.0,944.4 L364.8,945.8 L365.7,947.2 L366.5,948.5 L367.3,949.9 L368.1,951.3 L369.0,952.6 L369.8,953.9 L370.7,955.3 L371.5,956.6 L372.4,957.9 L373.3,959.2 L374.1,960.5 L375.0,961.8 L375.9,963.1 L376.8,964.4 L377.8,965.6 L378.7,966.9 L379.6,968.2 L380.5,969.4 L381.5,970.6 L382.5,971.9 L383.4,973.1 L384.4,974.3 L385.4,975.5 L386.4,976.7 L387.4,977.9 L388.4,979.1 L389.4,980.3 L390.4,981.5 L391.5,982.7 L392.5,983.9 L393.6,985.0 L394.6,986.2 L395.7,987.3 L396.8,988.5 L397.9,989.6 L399.0,990.8 L400.1,991.9 L401.2,993.0 L402.3,994.1 L403.5,995.2 L404.6,996.4 L405.8,997.5 L407.0,998.6 L408.1,999.7 L409.3,1000.7 L410.5,1001.8 L411.8,1002.9 L413.0,1004.0 L414.2,1005.1 L415.5,1006.1 L416.7,1007.2 L418.0,1008.3 L419.3,1009.3 L420.6,1010.4 L421.9,1011.4 L423.2,1012.4 L424.5,1013.5 L425.9,1014.5 L427.2,1015.5 L428.6,1016.6 L429.9,1017.6 L431.3,1018.6 L432.7,1019.6 L434.1,1020.6 L435.6,1021.6 L437.0,1022.6 L438.5,1023.6 L439.9,1024.6 L441.4,1025.6 L442.9,1026.6 L444.4,1027.6 L445.9,1028.6 L447.4,1029.5 L449.0,1030.5 L450.5,1031.5 L452.1,1032.4 L453.7,1033.4 L455.3,1034.3 L456.9,1035.3 L458.5,1036.2 L460.2,1037.2 L461.8,1038.1 L463.5,1039.0 L465.2,1040.0 L466.9,1040.9 L468.6,1041.8 L470.3,1042.7 L472.1,1043.6 L473.8,1044.6 L475.6,1045.5 L477.4,1046.4 L479.2,1047.3 L481.1,1048.2 L482.9,1049.0 L484.8,1049.9 L486.6,1050.8 L488.5,1051.7 L490.4,1052.6 L492.4,1053.4 L494.3,1054.3" fill="none" stroke="#1f6fe0" stroke-width="3.0" stroke-linejoin="round" stroke-linecap="round"/>
<path d="M492.4,1053.4 L501.3,1057.3 L510.3,1061.0 L519.3,1064.4 L528.3,1067.7 L537.3,1070.7 L546.2,1073.6 L555.2,1076.3 L564.2,1078.9 L573.2,1081.4 L582.2,1083.7 L591.1,1085.9 L600.1,1088.0 L609.1,1090.0 L618.1,1091.9 L627.1,1093.7 L636.0,1095.5 L645.0,1097.1 L654.0,1098.7 L663.0,1100.2 L672.0,1101.7 L680.9,1103.1 L689.9,1104.5 L698.9,1105.8 L707.9,1107.0 L716.9,1108.3 L725.8,1109.4 L734.8,1110.6 L743.8,1111.7 L752.8,1112.8 L761.8,1113.8 L770.7,1114.8 L779.7,1115.8 L788.7,1116.8 L797.7,1117.7 L806.7,1118.6 L815.6,1119.5 L824.6,1120.4 L833.6,1121.3 L842.6,1122.1 L851.6,1122.9 L860.5,1123.8 L869.5,1124.6 L878.5,1125.4 L887.5,1126.1 L896.5,1126.9 L905.4,1127.7 L914.4,1128.4 L923.4,1129.1 L932.4,1129.9 L941.4,1130.6 L950.3,1131.3 L959.3,1132.0 L968.3,1132.7 L977.3,1133.4 L986.3,1134.1 L995.2,1134.8 L1004.2,1135.4 L1013.2,1136.1 L1022.2,1136.8 L1031.2,1137.4 L1040.1,1138.1 L1049.1,1138.8 L1058.1,1139.4 L1067.1,1140.1 L1076.1,1140.7 L1085.0,1141.3 L1094.0,1142.0 L1103.0,1142.6 L1112.0,1143.3 L1121.0,1143.9 L1129.9,1144.5 L1138.9,1145.2 L1147.9,1145.8 L1156.9,1146.4 L1165.9,1147.0 L1174.8,1147.6 L1183.8,1148.3 L1192.8,1148.9 L1201.8,1149.5 L1210.8,1150.1 L1219.7,1150.7 L1228.7,1151.3 L1237.7,1152.0 L1246.7,1152.6 L1255.7,1153.2 L1264.7,1153.8 L1273.6,1154.4 L1282.6,1155.0 L1291.6,1155.6 L1300.6,1156.2 L1309.6,1156.8 L1318.5,1157.4 L1327.5,1158.0 L1336.5,1158.6 L1345.5,1159.2 L1354.5,1159.8 L1363.4,1160.4 L1372.4,1161.0 L1381.4,1161.6 L1390.4,1162.2 L1399.4,1162.8 L1408.3,1163.4 L1417.3,1164.0 L1426.3,1164.6 L1435.3,1165.2 L1444.3,1165.8 L1453.2,1166.4 L1462.2,1167.0 L1471.2,1167.6 L1480.2,1168.2 L1489.2,1168.8 L1498.1,1169.4 L1507.1,1170.0 L1516.1,1170.6 L1525.1,1171.2 L1534.1,1171.8 L1543.0,1172.4 L1552.0,1173.0 L1561.0,1173.6 L1570.0,1174.2 L1579.0,1174.8 L1587.9,1175.4 L1596.9,1176.0 L1605.9,1176.6 L1614.9,1177.2 L1623.9,1177.8 L1632.8,1178.4 L1641.8,1179.0 L1650.8,1179.6 L1659.8,1180.2 L1668.8,1180.7 L1677.7,1181.3 L1686.7,1181.9 L1695.7,1182.5 L1704.7,1183.1 L1713.7,1183.7 L1722.6,1184.3 L1731.6,1184.9 L1740.6,1185.5" fill="none" stroke="#1f6fe0" stroke-width="4.0" stroke-linejoin="round" stroke-linecap="butt"/>
<line x1="200.5" y1="53.6" x2="200.5" y2="1311.2" stroke="#262626" stroke-width="5.6" />
<line x1="197.7" y1="1308.5" x2="1760.4" y2="1308.5" stroke="#262626" stroke-width="5.6" />
<line x1="200.5" y1="1238.9" x2="214.7" y2="1238.9" stroke="#262626" stroke-width="5.0" />
<line x1="200.5" y1="1169.4" x2="226.7" y2="1169.4" stroke="#262626" stroke-width="5.0" />
<line x1="200.5" y1="1099.8" x2="214.7" y2="1099.8" stroke="#262626" stroke-width="5.0" />
<line x1="200.5" y1="1030.2" x2="226.7" y2="1030.2" stroke="#262626" stroke-width="5.0" />
<line x1="200.5" y1="960.7" x2="214.7" y2="960.7" stroke="#262626" stroke-width="5.0" />
<line x1="200.5" y1="891.1" x2="226.7" y2="891.1" stroke="#262626" stroke-width="5.0" />
<line x1="200.5" y1="821.5" x2="214.7" y2="821.5" stroke="#262626" stroke-width="5.0" />
<line x1="200.5" y1="752.0" x2="226.7" y2="752.0" stroke="#262626" stroke-width="5.0" />
<line x1="200.5" y1="682.4" x2="214.7" y2="682.4" stroke="#262626" stroke-width="5.0" />
<line x1="200.5" y1="612.9" x2="226.7" y2="612.9" stroke="#262626" stroke-width="5.0" />
<line x1="200.5" y1="543.3" x2="214.7" y2="543.3" stroke="#262626" stroke-width="5.0" />
<line x1="200.5" y1="473.7" x2="226.7" y2="473.7" stroke="#262626" stroke-width="5.0" />
<line x1="200.5" y1="404.2" x2="214.7" y2="404.2" stroke="#262626" stroke-width="5.0" />
<line x1="200.5" y1="334.6" x2="226.7" y2="334.6" stroke="#262626" stroke-width="5.0" />
<line x1="200.5" y1="265.0" x2="214.7" y2="265.0" stroke="#262626" stroke-width="5.0" />
<line x1="200.5" y1="195.5" x2="226.7" y2="195.5" stroke="#262626" stroke-width="5.0" />
<line x1="200.5" y1="125.9" x2="214.7" y2="125.9" stroke="#262626" stroke-width="5.0" />
<line x1="200.5" y1="56.3" x2="226.7" y2="56.3" stroke="#262626" stroke-width="5.0" />
<line x1="269.2" y1="1308.5" x2="269.2" y2="1284.0" stroke="#262626" stroke-width="5.0" />
<line x1="404.5" y1="1308.5" x2="404.5" y2="1296.3" stroke="#262626" stroke-width="5.0" />
<line x1="539.9" y1="1308.5" x2="539.9" y2="1284.0" stroke="#262626" stroke-width="5.0" />
<line x1="675.2" y1="1308.5" x2="675.2" y2="1296.3" stroke="#262626" stroke-width="5.0" />
<line x1="810.5" y1="1308.5" x2="810.5" y2="1284.0" stroke="#262626" stroke-width="5.0" />
<line x1="945.8" y1="1308.5" x2="945.8" y2="1296.3" stroke="#262626" stroke-width="5.0" />
<line x1="1081.2" y1="1308.5" x2="1081.2" y2="1284.0" stroke="#262626" stroke-width="5.0" />
<line x1="1216.5" y1="1308.5" x2="1216.5" y2="1296.3" stroke="#262626" stroke-width="5.0" />
<line x1="1351.8" y1="1308.5" x2="1351.8" y2="1284.0" stroke="#262626" stroke-width="5.0" />
<line x1="1487.2" y1="1308.5" x2="1487.2" y2="1296.3" stroke="#262626" stroke-width="5.0" />
<line x1="1622.5" y1="1308.5" x2="1622.5" y2="1284.0" stroke="#262626" stroke-width="5.0" />
<line x1="1757.8" y1="1308.5" x2="1757.8" y2="1296.3" stroke="#262626" stroke-width="5.0" />
<text transform="translate(0,1327.95) scale(0.9672,1)" x="150.75" font-size="54.69" fill="#1e1e1e" stroke="#fff" stroke-width="0.2">0</text>
<text transform="translate(0,1188.82) scale(0.9672,1)" x="150.33" font-size="54.69" fill="#1e1e1e" stroke="#fff" stroke-width="0.2">5</text>
<text transform="translate(0,1049.69) scale(0.9672,1)" x="122.40 150.75" font-size="54.69" fill="#1e1e1e" stroke="#fff" stroke-width="0.2">10</text>
<text transform="translate(0,910.56) scale(0.9672,1)" x="122.40 150.33" font-size="54.69" fill="#1e1e1e" stroke="#fff" stroke-width="0.2">15</text>
<text transform="translate(0,771.43) scale(0.9672,1)" x="123.68 150.75" font-size="54.69" fill="#1e1e1e" stroke="#fff" stroke-width="0.2">20</text>
<text transform="translate(0,632.30) scale(0.9672,1)" x="123.68 150.33" font-size="54.69" fill="#1e1e1e" stroke="#fff" stroke-width="0.2">25</text>
<text transform="translate(0,493.17) scale(0.9672,1)" x="122.82 150.75" font-size="54.69" fill="#1e1e1e" stroke="#fff" stroke-width="0.2">30</text>
<text transform="translate(0,354.04) scale(0.9672,1)" x="122.82 150.33" font-size="54.69" fill="#1e1e1e" stroke="#fff" stroke-width="0.2">35</text>
<text transform="translate(0,214.91) scale(0.9672,1)" x="123.25 150.75" font-size="54.69" fill="#1e1e1e" stroke="#fff" stroke-width="0.2">40</text>
<text transform="translate(0,75.78) scale(0.9672,1)" x="123.25 150.33" font-size="54.69" fill="#1e1e1e" stroke="#fff" stroke-width="0.2">45</text>
<text transform="translate(0,1379.75) scale(0.9672,1)" x="264.66" font-size="54.69" fill="#1e1e1e" stroke="#fff" stroke-width="0.2">0</text>
<text transform="translate(0,1379.75) scale(0.9672,1)" x="474.63 501.70 532.43 556.71 584.21 611.71" font-size="54.69" fill="#1e1e1e" stroke="#fff" stroke-width="0.2">20,000</text>
<text transform="translate(0,1379.75) scale(0.9672,1)" x="754.04 781.55 812.27 836.55 864.05 891.56" font-size="54.69" fill="#1e1e1e" stroke="#fff" stroke-width="0.2">40,000</text>
<text transform="translate(0,1379.75) scale(0.9672,1)" x="1033.46 1061.39 1092.11 1116.40 1143.90 1171.40" font-size="54.69" fill="#1e1e1e" stroke="#fff" stroke-width="0.2">60,000</text>
<text transform="translate(0,1379.75) scale(0.9672,1)" x="1313.73 1341.23 1371.96 1396.24 1423.74 1451.24" font-size="54.69" fill="#1e1e1e" stroke="#fff" stroke-width="0.2">80,000</text>
<text transform="translate(0,1379.75) scale(0.9672,1)" x="1578.97 1607.33 1634.83 1665.55 1689.83 1717.34 1744.84" font-size="54.69" fill="#1e1e1e" stroke="#fff" stroke-width="0.2">100,000</text>
<text transform="rotate(-90) translate(-901.66,92.90) scale(0.9670,1)" font-size="70.00" letter-spacing="-1.109" fill="#1a1a1a" >Temperature(°C)</text>
<text transform="translate(875.96,1469.90) scale(0.9903,1)" font-size="67.50" letter-spacing="-0.335" fill="#1a1a1a" >Time(s)</text>
<text transform="translate(467.16,1006.50) scale(0.9975,1)" font-size="59.00" letter-spacing="-0.060" fill="#1a1a1a" >Insulation stage</text>
<line x1="980.6" y1="97.0" x2="1127.1" y2="97.0" stroke="#a2a2a2" stroke-width="2.8" />
<line x1="1051.1" y1="97.0" x2="1057.1" y2="97.0" stroke="#6a6a6a" stroke-width="3.4" />
<text transform="translate(1141.56,119.40) scale(0.9834,1)" font-size="68.00" letter-spacing="-1.216" fill="#111" >T4</text>
<line x1="1214.2" y1="97.0" x2="1360.7" y2="97.0" stroke="#f59a9a" stroke-width="2.8" />
<line x1="1284.7" y1="97.0" x2="1290.7" y2="97.0" stroke="#ee5a5a" stroke-width="3.4" />
<text transform="translate(1377.68,119.40) scale(0.9630,1)" font-size="68.00" letter-spacing="-2.674" fill="#111" >T8</text>
<line x1="1449.0" y1="97.0" x2="1595.5" y2="97.0" stroke="#8db6f1" stroke-width="2.8" />
<line x1="1519.5" y1="97.0" x2="1525.5" y2="97.0" stroke="#4a8ae6" stroke-width="3.4" />
<text transform="translate(1611.76,119.40) scale(0.9746,1)" font-size="68.00" letter-spacing="-1.339" fill="#111" >T12</text>
<line x1="284.0" y1="280.3" x2="830.0" y2="280.3" stroke="#777" stroke-width="2.8" />
<path d="M845,281 L826.5,273 L826.5,289 Z" fill="#111"/>
<path d="M981.7,782.1 L989.2,776.4 L996.7,770.8 L1004.1,765.2 L1011.6,759.7 L1019.1,754.3 L1026.6,749.0 L1034.0,743.7 L1041.5,738.5 L1049.0,733.3 L1056.5,728.2 L1063.9,723.2 L1071.4,718.2 L1078.9,713.3 L1086.4,708.4 L1093.8,703.6 L1101.3,698.9 L1108.8,694.2 L1116.3,689.5 L1123.7,685.0 L1131.2,680.5 L1138.7,676.0 L1146.2,671.6 L1153.6,667.2 L1161.1,662.9 L1168.6,658.7 L1176.1,654.5 L1183.5,650.3 L1191.0,646.2 L1198.5,642.2 L1206.0,638.2 L1213.4,634.2 L1220.9,630.3 L1228.4,626.5 L1235.9,622.6 L1243.3,618.9 L1250.8,615.2 L1258.3,611.5 L1265.8,607.9 L1273.2,604.3 L1280.7,600.7 L1288.2,597.2 L1295.7,593.8 L1303.1,590.4 L1310.6,587.0 L1318.1,583.6 L1325.6,580.3 L1333.0,577.1 L1340.5,573.9 L1348.0,570.7 L1355.5,567.6 L1362.9,564.5 L1370.4,561.4 L1377.9,558.4 L1385.4,555.4 L1392.8,552.4 L1400.3,549.5 L1407.8,546.6 L1415.3,543.8 L1422.7,541.0 L1430.2,538.2 L1437.7,535.4 L1445.2,532.7 L1452.6,530.1 L1460.1,527.4 L1467.6,524.8 L1475.1,522.2 L1482.5,519.7 L1490.0,517.1 L1497.5,514.6 L1505.0,512.2 L1512.4,509.7 L1519.9,507.3 L1527.4,505.0 L1534.9,502.6 L1542.3,500.3 L1549.8,498.0 L1557.3,495.8 L1564.8,493.5 L1572.2,491.3 L1579.7,489.1 L1587.2,487.0 L1594.7,484.9 L1602.1,482.8 L1609.6,480.7 L1617.1,478.6 L1624.6,476.6 L1632.0,474.6 L1639.5,472.6 L1647.0,470.7" fill="none" stroke="#3a3a3a" stroke-width="2.7" stroke-linejoin="round" stroke-linecap="round"/>
<path d="M981.7,782.1 L989.2,771.9 L996.7,762.0 L1004.1,752.2 L1011.6,742.6 L1019.1,733.2 L1026.6,724.0 L1034.0,714.9 L1041.5,706.1 L1049.0,697.4 L1056.5,688.8 L1063.9,680.5 L1071.4,672.3 L1078.9,664.3 L1086.4,656.4 L1093.8,648.7 L1101.3,641.1 L1108.8,633.7 L1116.3,626.4 L1123.7,619.2 L1131.2,612.2 L1138.7,605.4 L1146.2,598.7 L1153.6,592.1 L1161.1,585.6 L1168.6,579.2 L1176.1,573.0 L1183.5,566.9 L1191.0,560.9 L1198.5,555.1 L1206.0,549.3 L1213.4,543.7 L1220.9,538.2 L1228.4,532.8 L1235.9,527.4 L1243.3,522.2 L1250.8,517.1 L1258.3,512.1 L1265.8,507.2 L1273.2,502.4 L1280.7,497.7 L1288.2,493.0 L1295.7,488.5 L1303.1,484.0 L1310.6,479.7 L1318.1,475.4 L1325.6,471.2 L1333.0,467.1 L1340.5,463.1 L1348.0,459.1 L1355.5,455.2 L1362.9,451.4 L1370.4,447.7 L1377.9,444.0 L1385.4,440.5 L1392.8,436.9 L1400.3,433.5 L1407.8,430.1 L1415.3,426.8 L1422.7,423.6 L1430.2,420.4 L1437.7,417.2 L1445.2,414.2 L1452.6,411.2 L1460.1,408.2 L1467.6,405.4 L1475.1,402.5 L1482.5,399.7 L1490.0,397.0 L1497.5,394.4 L1505.0,391.7 L1512.4,389.2 L1519.9,386.7 L1527.4,384.2 L1534.9,381.8 L1542.3,379.4 L1549.8,377.1 L1557.3,374.8 L1564.8,372.6 L1572.2,370.4 L1579.7,368.2 L1587.2,366.1 L1594.7,364.1 L1602.1,362.0 L1609.6,360.0 L1617.1,358.1 L1624.6,356.2 L1632.0,354.3 L1639.5,352.5 L1647.0,350.7" fill="none" stroke="#ee3434" stroke-width="2.7" stroke-linejoin="round" stroke-linecap="round"/>
<path d="M981.7,782.1 L989.2,768.2 L996.7,754.7 L1004.1,741.5 L1011.6,728.6 L1019.1,716.1 L1026.6,703.9 L1034.0,692.0 L1041.5,680.4 L1049.0,669.1 L1056.5,658.1 L1063.9,647.4 L1071.4,636.9 L1078.9,626.7 L1086.4,616.8 L1093.8,607.1 L1101.3,597.7 L1108.8,588.5 L1116.3,579.5 L1123.7,570.8 L1131.2,562.3 L1138.7,554.0 L1146.2,545.9 L1153.6,538.0 L1161.1,530.3 L1168.6,522.9 L1176.1,515.6 L1183.5,508.4 L1191.0,501.5 L1198.5,494.8 L1206.0,488.2 L1213.4,481.8 L1220.9,475.5 L1228.4,469.4 L1235.9,463.5 L1243.3,457.7 L1250.8,452.1 L1258.3,446.6 L1265.8,441.2 L1273.2,436.0 L1280.7,430.9 L1288.2,426.0 L1295.7,421.1 L1303.1,416.4 L1310.6,411.8 L1318.1,407.4 L1325.6,403.0 L1333.0,398.8 L1340.5,394.6 L1348.0,390.6 L1355.5,386.6 L1362.9,382.8 L1370.4,379.1 L1377.9,375.4 L1385.4,371.9 L1392.8,368.4 L1400.3,365.1 L1407.8,361.8 L1415.3,358.6 L1422.7,355.5 L1430.2,352.4 L1437.7,349.5 L1445.2,346.6 L1452.6,343.8 L1460.1,341.0 L1467.6,338.3 L1475.1,335.7 L1482.5,333.2 L1490.0,330.7 L1497.5,328.3 L1505.0,326.0 L1512.4,323.7 L1519.9,321.4 L1527.4,319.3 L1534.9,317.1 L1542.3,315.1 L1549.8,313.1 L1557.3,311.1 L1564.8,309.2 L1572.2,307.3 L1579.7,305.5 L1587.2,303.7 L1594.7,302.0 L1602.1,300.3 L1609.6,298.7 L1617.1,297.1 L1624.6,295.5 L1632.0,294.0 L1639.5,292.5 L1647.0,291.1" fill="none" stroke="#1f6fe0" stroke-width="2.7" stroke-linejoin="round" stroke-linecap="round"/>
<line x1="930.1" y1="216.0" x2="930.1" y2="855.0" stroke="#505050" stroke-width="4.2" />
<line x1="928.0" y1="853.1" x2="1722.0" y2="853.1" stroke="#3c3c3c" stroke-width="3.2" />
<line x1="930.1" y1="817.4" x2="936.0" y2="817.4" stroke="#505050" stroke-width="3.2" />
<line x1="930.1" y1="782.1" x2="941.8" y2="782.1" stroke="#505050" stroke-width="3.2" />
<line x1="930.1" y1="746.9" x2="936.0" y2="746.9" stroke="#505050" stroke-width="3.2" />
<line x1="930.1" y1="711.6" x2="941.8" y2="711.6" stroke="#505050" stroke-width="3.2" />
<line x1="930.1" y1="676.4" x2="936.0" y2="676.4" stroke="#505050" stroke-width="3.2" />
<line x1="930.1" y1="641.1" x2="941.8" y2="641.1" stroke="#505050" stroke-width="3.2" />
<line x1="930.1" y1="605.9" x2="936.0" y2="605.9" stroke="#505050" stroke-width="3.2" />
<line x1="930.1" y1="570.6" x2="941.8" y2="570.6" stroke="#505050" stroke-width="3.2" />
<line x1="930.1" y1="535.4" x2="936.0" y2="535.4" stroke="#505050" stroke-width="3.2" />
<line x1="930.1" y1="500.1" x2="941.8" y2="500.1" stroke="#505050" stroke-width="3.2" />
<line x1="930.1" y1="464.9" x2="936.0" y2="464.9" stroke="#505050" stroke-width="3.2" />
<line x1="930.1" y1="429.6" x2="941.8" y2="429.6" stroke="#505050" stroke-width="3.2" />
<line x1="930.1" y1="394.4" x2="936.0" y2="394.4" stroke="#505050" stroke-width="3.2" />
<line x1="930.1" y1="359.1" x2="941.8" y2="359.1" stroke="#505050" stroke-width="3.2" />
<line x1="930.1" y1="323.9" x2="936.0" y2="323.9" stroke="#505050" stroke-width="3.2" />
<line x1="930.1" y1="288.6" x2="941.8" y2="288.6" stroke="#505050" stroke-width="3.2" />
<line x1="930.1" y1="253.4" x2="936.0" y2="253.4" stroke="#505050" stroke-width="3.2" />
<line x1="930.1" y1="218.1" x2="941.8" y2="218.1" stroke="#505050" stroke-width="3.2" />
<line x1="981.7" y1="853.1" x2="981.7" y2="841.7" stroke="#505050" stroke-width="3.0" />
<line x1="1034.5" y1="853.1" x2="1034.5" y2="847.8" stroke="#505050" stroke-width="3.0" />
<line x1="1087.2" y1="853.1" x2="1087.2" y2="841.7" stroke="#505050" stroke-width="3.0" />
<line x1="1140.0" y1="853.1" x2="1140.0" y2="847.8" stroke="#505050" stroke-width="3.0" />
<line x1="1192.8" y1="853.1" x2="1192.8" y2="841.7" stroke="#505050" stroke-width="3.0" />
<line x1="1245.5" y1="853.1" x2="1245.5" y2="847.8" stroke="#505050" stroke-width="3.0" />
<line x1="1298.3" y1="853.1" x2="1298.3" y2="841.7" stroke="#505050" stroke-width="3.0" />
<line x1="1351.1" y1="853.1" x2="1351.1" y2="847.8" stroke="#505050" stroke-width="3.0" />
<line x1="1403.8" y1="853.1" x2="1403.8" y2="841.7" stroke="#505050" stroke-width="3.0" />
<line x1="1456.6" y1="853.1" x2="1456.6" y2="847.8" stroke="#505050" stroke-width="3.0" />
<line x1="1509.3" y1="853.1" x2="1509.3" y2="841.7" stroke="#505050" stroke-width="3.0" />
<line x1="1562.1" y1="853.1" x2="1562.1" y2="847.8" stroke="#505050" stroke-width="3.0" />
<line x1="1614.9" y1="853.1" x2="1614.9" y2="841.7" stroke="#505050" stroke-width="3.0" />
<line x1="1667.6" y1="853.1" x2="1667.6" y2="847.8" stroke="#505050" stroke-width="3.0" />
<line x1="1720.4" y1="853.1" x2="1720.4" y2="841.7" stroke="#505050" stroke-width="3.0" />
<text transform="translate(0,862.88) scale(0.8936,1)" x="1008.58" font-size="29.82" fill="#3c3c3c" stroke="#fff" stroke-width="0.15">0</text>
<text transform="translate(0,792.38) scale(0.8936,1)" x="1008.34" font-size="29.82" fill="#3c3c3c" stroke="#fff" stroke-width="0.15">5</text>
<text transform="translate(0,721.88) scale(0.8936,1)" x="993.12 1008.58" font-size="29.82" fill="#3c3c3c" stroke="#fff" stroke-width="0.15">10</text>
<text transform="translate(0,651.38) scale(0.8936,1)" x="993.12 1008.34" font-size="29.82" fill="#3c3c3c" stroke="#fff" stroke-width="0.15">15</text>
<text transform="translate(0,580.88) scale(0.8936,1)" x="993.82 1008.58" font-size="29.82" fill="#3c3c3c" stroke="#fff" stroke-width="0.15">20</text>
<text transform="translate(0,510.38) scale(0.8936,1)" x="993.82 1008.34" font-size="29.82" fill="#3c3c3c" stroke="#fff" stroke-width="0.15">25</text>
<text transform="translate(0,439.88) scale(0.8936,1)" x="993.35 1008.58" font-size="29.82" fill="#3c3c3c" stroke="#fff" stroke-width="0.15">30</text>
<text transform="translate(0,369.38) scale(0.8936,1)" x="993.35 1008.34" font-size="29.82" fill="#3c3c3c" stroke="#fff" stroke-width="0.15">35</text>
<text transform="translate(0,298.88) scale(0.8936,1)" x="993.58 1008.58" font-size="29.82" fill="#3c3c3c" stroke="#fff" stroke-width="0.15">40</text>
<text transform="translate(0,228.38) scale(0.8936,1)" x="993.58 1008.34" font-size="29.82" fill="#3c3c3c" stroke="#fff" stroke-width="0.15">45</text>
<text transform="translate(0,890.38) scale(0.8936,1)" x="1090.52" font-size="29.82" fill="#3c3c3c" stroke="#fff" stroke-width="0.15">0</text>
<text transform="translate(0,890.38) scale(0.8936,1)" x="1193.15 1208.61 1223.61" font-size="29.82" fill="#3c3c3c" stroke="#fff" stroke-width="0.15">100</text>
<text transform="translate(0,890.38) scale(0.8936,1)" x="1311.94 1326.70 1341.69" font-size="29.82" fill="#3c3c3c" stroke="#fff" stroke-width="0.15">200</text>
<text transform="translate(0,890.38) scale(0.8936,1)" x="1429.56 1444.79 1459.78" font-size="29.82" fill="#3c3c3c" stroke="#fff" stroke-width="0.15">300</text>
<text transform="translate(0,890.38) scale(0.8936,1)" x="1547.88 1562.88 1577.87" font-size="29.82" fill="#3c3c3c" stroke="#fff" stroke-width="0.15">400</text>
<text transform="translate(0,890.38) scale(0.8936,1)" x="1665.74 1680.97 1695.96" font-size="29.82" fill="#3c3c3c" stroke="#fff" stroke-width="0.15">500</text>
<text transform="translate(0,890.38) scale(0.8936,1)" x="1783.83 1799.06 1814.05" font-size="29.82" fill="#3c3c3c" stroke="#fff" stroke-width="0.15">600</text>
<text transform="translate(0,890.38) scale(0.8936,1)" x="1901.45 1917.15 1932.14" font-size="29.82" fill="#3c3c3c" stroke="#fff" stroke-width="0.15">700</text>
<text transform="rotate(-90) translate(-648.23,873.50) scale(0.9856,1)" font-size="34.50" letter-spacing="-0.238" fill="#2a2a2a" >Temperature(°C)</text>
<text transform="translate(1272.58,935.80) scale(0.9945,1)" font-size="33.50" letter-spacing="-0.095" fill="#2a2a2a" >Time(s)</text>
<text transform="translate(1077.28,291.60) scale(0.9934,1)" font-size="59.00" letter-spacing="-0.177" fill="#1a1a1a" >Heating stage</text>
<text x="937.6" y="1689.5" text-anchor="middle" font-size="83" letter-spacing="1.2" fill="#000">(<tspan font-weight="bold">b</tspan>)</text>
</g>
<g id="chart-c" filter="url(#soft2)">
<line x1="251.8" y1="1917.0" x2="251.8" y2="3180.0" stroke="#5876b3" stroke-width="3.3" stroke-dasharray="14 8"/>
<line x1="267.0" y1="1917.0" x2="267.0" y2="3180.0" stroke="#5876b3" stroke-width="3.3" stroke-dasharray="14 8"/>
<line x1="251.8" y1="3178.5" x2="267.0" y2="3178.5" stroke="#5876b3" stroke-width="2.5" />
<line x1="221.6" y1="2864.0" x2="1761.7" y2="2864.0" stroke="#808080" stroke-width="1.8" stroke-dasharray="6 4.5"/>
<path d="M273.8,2394.3 L273.8,2394.7 L273.9,2395.1 L273.9,2395.5 L273.9,2395.9 L273.9,2396.4 L274.0,2396.8 L274.0,2397.2 L274.0,2397.6 L274.0,2398.1 L274.1,2398.5 L274.1,2398.9 L274.1,2399.4 L274.2,2399.8 L274.2,2400.3 L274.2,2400.7 L274.3,2401.2 L274.3,2401.6 L274.3,2402.1 L274.4,2402.6 L274.4,2403.0 L274.4,2403.5 L274.4,2404.0 L274.5,2404.5 L274.5,2405.0 L274.5,2405.4 L274.6,2405.9 L274.6,2406.4 L274.6,2406.9 L274.7,2407.4 L274.7,2407.9 L274.7,2408.4 L274.8,2409.0 L274.8,2409.5 L274.9,2410.0 L274.9,2410.5 L274.9,2411.0 L275.0,2411.6 L275.0,2412.1 L275.0,2412.7 L275.1,2413.2 L275.1,2413.7 L275.2,2414.3 L275.2,2414.9 L275.2,2415.4 L275.3,2416.0 L275.3,2416.5 L275.4,2417.1 L275.4,2417.7 L275.4,2418.3 L275.5,2418.9 L275.5,2419.4 L275.6,2420.0 L275.6,2420.6 L275.6,2421.2 L275.7,2421.8 L275.7,2422.4 L275.8,2423.1 L275.8,2423.7 L275.9,2424.3 L275.9,2424.9 L276.0,2425.6 L276.0,2426.2 L276.0,2426.8 L276.1,2427.5 L276.1,2428.1 L276.2,2428.8 L276.2,2429.4 L276.3,2430.1 L276.3,2430.8 L276.4,2431.4 L276.4,2432.1 L276.5,2432.8 L276.5,2433.5 L276.6,2434.2 L276.6,2434.9 L276.7,2435.6 L276.7,2436.3 L276.8,2437.0 L276.8,2437.7 L276.9,2438.4 L277.0,2439.1 L277.0,2439.8 L277.1,2440.6 L277.1,2441.3 L277.2,2442.1 L277.2,2442.8 L277.3,2443.5 L277.3,2444.3 L277.4,2445.1 L277.5,2445.8 L277.5,2446.6 L277.6,2447.4 L277.6,2448.2 L277.7,2448.9 L277.8,2449.7 L277.8,2450.5 L277.9,2451.3 L278.0,2452.1 L278.0,2452.9 L278.1,2453.7 L278.1,2454.6 L278.2,2455.4 L278.3,2456.2 L278.3,2457.1 L278.4,2457.9 L278.5,2458.7 L278.5,2459.6 L278.6,2460.4 L278.7,2461.3 L278.8,2462.2 L278.8,2463.0 L278.9,2463.9 L279.0,2464.8 L279.0,2465.7 L279.1,2466.6 L279.2,2467.5 L279.3,2468.4 L279.3,2469.3 L279.4,2470.2 L279.5,2471.1 L279.6,2472.0 L279.6,2472.9 L279.7,2473.9 L279.8,2474.8 L279.9,2475.8 L280.0,2476.7 L280.0,2477.7 L280.1,2478.6 L280.2,2479.6 L280.3,2480.5 L280.4,2481.5 L280.5,2482.5 L280.6,2483.5 L280.6,2484.5 L280.7,2485.5 L280.8,2486.5 L280.9,2487.5 L281.0,2488.5 L281.1,2489.5 L281.2,2490.5 L281.3,2491.5 L281.4,2492.6 L281.5,2493.6 L281.6,2494.6 L281.6,2495.7 L281.7,2496.7 L281.8,2497.8 L281.9,2498.8 L282.0,2499.9 L282.1,2501.0 L282.2,2502.1 L282.3,2503.1 L282.4,2504.2 L282.6,2505.3 L282.7,2506.4 L282.8,2507.5 L282.9,2508.6 L283.0,2509.7 L283.1,2510.8 L283.2,2512.0 L283.3,2513.1 L283.4,2514.2 L283.5,2515.4 L283.6,2516.5 L283.8,2517.6 L283.9,2518.8 L284.0,2519.9 L284.1,2521.1 L284.2,2522.3 L284.3,2523.4 L284.5,2524.6 L284.6,2525.8 L284.7,2527.0 L284.8,2528.2 L285.0,2529.4 L285.1,2530.5 L285.2,2531.7 L285.3,2533.0 L285.5,2534.2 L285.6,2535.4 L285.7,2536.6 L285.9,2537.8 L286.0,2539.0 L286.1,2540.3 L286.3,2541.5 L286.4,2542.8 L286.5,2544.0 L286.7,2545.2 L286.8,2546.5 L287.0,2547.8 L287.1,2549.0 L287.3,2550.3 L287.4,2551.5 L287.6,2552.8 L287.7,2554.1 L287.9,2555.4 L288.0,2556.7 L288.2,2557.9 L288.3,2559.2 L288.5,2560.5 L288.6,2561.8 L288.8,2563.1 L288.9,2564.4 L289.1,2565.7 L289.3,2567.0 L289.4,2568.4 L289.6,2569.7 L289.8,2571.0 L289.9,2572.3 L290.1,2573.6 L290.3,2575.0 L290.5,2576.3 L290.6,2577.6 L290.8,2579.0 L291.0,2580.3 L291.2,2581.7 L291.3,2583.0 L291.5,2584.3 L291.7,2585.7 L291.9,2587.0 L292.1,2588.4 L292.3,2589.8 L292.5,2591.1 L292.7,2592.5 L292.9,2593.8 L293.0,2595.2 L293.2,2596.6 L293.4,2597.9 L293.6,2599.3 L293.9,2600.7 L294.1,2602.1 L294.3,2603.4 L294.5,2604.8 L294.7,2606.2 L294.9,2607.6 L295.1,2609.0 L295.3,2610.3 L295.5,2611.7 L295.8,2613.1 L296.0,2614.5 L296.2,2615.9 L296.4,2617.3 L296.7,2618.6 L296.9,2620.0 L297.1,2621.4 L297.4,2622.8 L297.6,2624.2 L297.8,2625.6 L298.1,2627.0 L298.3,2628.4 L298.6,2629.8 L298.8,2631.2 L299.1,2632.5 L299.3,2633.9 L299.6,2635.3 L299.8,2636.7 L300.1,2638.1 L300.3,2639.5 L300.6,2640.9 L300.9,2642.3 L301.1,2643.7 L301.4,2645.0 L301.7,2646.4 L302.0,2647.8 L302.2,2649.2 L302.5,2650.6 L302.8,2652.0 L303.1,2653.3 L303.4,2654.7 L303.7,2656.1 L304.0,2657.5 L304.2,2658.8 L304.5,2660.2 L304.8,2661.6 L305.2,2663.0 L305.5,2664.3 L305.8,2665.7 L306.1,2667.0 L306.4,2668.4 L306.7,2669.8 L307.0,2671.1 L307.4,2672.5 L307.7,2673.8 L308.0,2675.2 L308.3,2676.5 L308.7,2677.9 L309.0,2679.2 L309.3,2680.5 L309.7,2681.9 L310.0,2683.2 L310.4,2684.5 L310.7,2685.9 L311.1,2687.2 L311.5,2688.5 L311.8,2689.8 L312.2,2691.1 L312.5,2692.5 L312.9,2693.8 L313.3,2695.1 L313.7,2696.4 L314.1,2697.7 L314.4,2699.0 L314.8,2700.2 L315.2,2701.5 L315.6,2702.8 L316.0,2704.1 L316.4,2705.4 L316.8,2706.6 L317.2,2707.9 L317.6,2709.2 L318.1,2710.4 L318.5,2711.7 L318.9,2712.9 L319.3,2714.2 L319.8,2715.4 L320.2,2716.6 L320.6,2717.9 L321.1,2719.1 L321.5,2720.3 L322.0,2721.5 L322.4,2722.8 L322.9,2724.0 L323.4,2725.2 L323.8,2726.4 L324.3,2727.6 L324.8,2728.8 L325.3,2730.0 L325.8,2731.1 L326.2,2732.3 L326.7,2733.5 L327.2,2734.7 L327.7,2735.8 L328.2,2737.0 L328.8,2738.2 L329.3,2739.3 L329.8,2740.5 L330.3,2741.6 L330.8,2742.7" fill="none" stroke="#666666" stroke-width="2.1" stroke-linejoin="round" />
<path d="M265.5,2865.3 L273.8,2394.3" fill="none" stroke="#3d3d3d" stroke-width="4.6" stroke-linejoin="round" stroke-linecap="round"/>
<path d="M277.9,2451.2h0M282.0,2499.0h0M286.0,2539.5h0M290.1,2573.8h0M294.2,2603.0h0M298.3,2628.1h0M302.4,2649.8h0M306.4,2668.6h0M310.5,2685.0h0M314.6,2699.5h0M318.7,2712.2h0M322.8,2723.6h0M326.8,2733.7h0" fill="none" stroke="#3d3d3d" stroke-width="3.0" stroke-linecap="round"/>
<path d="M329.8,2740.5 L330.3,2741.6 L330.8,2742.7 L331.4,2743.9 L331.9,2745.0 L332.5,2746.1 L333.0,2747.2 L333.6,2748.3 L334.1,2749.5 L334.7,2750.6 L335.3,2751.7 L335.8,2752.8 L336.4,2753.9 L337.0,2754.9 L337.6,2756.0 L338.2,2757.1 L338.8,2758.2 L339.4,2759.2 L340.0,2760.3 L340.6,2761.4 L341.2,2762.4 L341.9,2763.5 L342.5,2764.5 L343.1,2765.5 L343.8,2766.6 L344.4,2767.6 L345.1,2768.6 L345.7,2769.7 L346.4,2770.7 L347.1,2771.7 L347.8,2772.7 L348.5,2773.7 L349.1,2774.7 L349.8,2775.7 L350.5,2776.7 L351.3,2777.7 L352.0,2778.7 L352.7,2779.7 L353.4,2780.6 L354.2,2781.6 L354.9,2782.6 L355.7,2783.5 L356.4,2784.5 L357.2,2785.5 L357.9,2786.4 L358.7,2787.4 L359.5,2788.3 L360.3,2789.2 L361.1,2790.2 L361.9,2791.1 L362.7,2792.0 L363.5,2793.0 L364.3,2793.9 L365.2,2794.8 L366.0,2795.7 L366.9,2796.6 L367.7,2797.5 L368.6,2798.4 L369.5,2799.3 L370.3,2800.2 L371.2,2801.1 L372.1,2802.0 L373.0,2802.9 L373.9,2803.8 L374.8,2804.7 L375.8,2805.6 L376.7,2806.4 L377.6,2807.3 L378.6,2808.2 L379.6,2809.1 L380.5,2809.9 L381.5,2810.8 L382.5,2811.6 L383.5,2812.5 L384.5,2813.4 L385.5,2814.2 L386.5,2815.0 L387.6,2815.9 L388.6,2816.7 L389.6,2817.6 L390.7,2818.4 L391.8,2819.2 L392.8,2820.1 L393.9,2820.9 L395.0,2821.7 L396.1,2822.6 L397.3,2823.4 L398.4,2824.2 L399.5,2825.0 L400.7,2825.8 L401.8,2826.6 L403.0,2827.4 L404.2,2828.3 L405.3,2829.1 L406.5,2829.9 L407.8,2830.7 L409.0,2831.5 L410.2,2832.3 L411.4,2833.1 L412.7,2833.8 L414.0,2834.6 L415.2,2835.4 L416.5,2836.2 L417.8,2837.0 L419.1,2837.8 L420.5,2838.6 L421.8,2839.3 L423.1,2840.1 L424.5,2840.9 L425.9,2841.7 L427.2,2842.4 L428.6,2843.2 L430.0,2844.0 L431.4,2844.7 L432.9,2845.5 L434.3,2846.2 L435.8,2847.0 L437.2,2847.8 L438.7,2848.5 L440.2,2849.3 L441.7,2850.0 L443.3,2850.8 L444.8,2851.5 L446.3,2852.3 L447.9,2853.0 L449.5,2853.8 L451.1,2854.5 L452.7,2855.2 L454.3,2856.0 L455.9,2856.7 L457.6,2857.5" fill="none" stroke="#3d3d3d" stroke-width="2.7" stroke-linejoin="round" stroke-linecap="round"/>
<path d="M455.9,2856.7 L465.2,2860.8 L474.5,2864.6 L483.7,2868.2 L493.0,2871.6 L502.3,2874.8 L511.6,2877.9 L520.8,2880.9 L530.1,2883.7 L539.4,2886.5 L548.6,2889.1 L557.9,2891.6 L567.2,2894.1 L576.5,2896.4 L585.7,2898.7 L595.0,2900.9 L604.3,2903.1 L613.5,2905.2 L622.8,2907.3 L632.1,2909.3 L641.4,2911.3 L650.6,2913.2 L659.9,2915.1 L669.2,2916.9 L678.4,2918.7 L687.7,2920.5 L697.0,2922.2 L706.2,2924.0 L715.5,2925.7 L724.8,2927.3 L734.1,2929.0 L743.3,2930.6 L752.6,2932.2 L761.9,2933.8 L771.1,2935.3 L780.4,2936.9 L789.7,2938.4 L799.0,2939.9 L808.2,2941.4 L817.5,2942.9 L826.8,2944.4 L836.0,2945.9 L845.3,2947.3 L854.6,2948.8 L863.9,2950.2 L873.1,2951.6 L882.4,2953.0 L891.7,2954.4 L900.9,2955.8 L910.2,2957.2 L919.5,2958.6 L928.8,2960.0 L938.0,2961.3 L947.3,2962.7 L956.6,2964.0 L965.8,2965.4 L975.1,2966.7 L984.4,2968.0 L993.6,2969.3 L1002.9,2970.7 L1012.2,2972.0 L1021.5,2973.3 L1030.7,2974.6 L1040.0,2975.9 L1049.3,2977.2 L1058.5,2978.5 L1067.8,2979.8 L1077.1,2981.1 L1086.4,2982.4 L1095.6,2983.6 L1104.9,2984.9 L1114.2,2986.2 L1123.4,2987.5 L1132.7,2988.7 L1142.0,2990.0 L1151.3,2991.3 L1160.5,2992.5 L1169.8,2993.8 L1179.1,2995.0 L1188.3,2996.3 L1197.6,2997.5 L1206.9,2998.8 L1216.2,3000.0 L1225.4,3001.3 L1234.7,3002.5 L1244.0,3003.8 L1253.2,3005.0 L1262.5,3006.2 L1271.8,3007.5 L1281.1,3008.7 L1290.3,3010.0 L1299.6,3011.2 L1308.9,3012.4 L1318.1,3013.7 L1327.4,3014.9 L1336.7,3016.1 L1345.9,3017.3 L1355.2,3018.6 L1364.5,3019.8 L1373.8,3021.0 L1383.0,3022.2 L1392.3,3023.5 L1401.6,3024.7 L1410.8,3025.9 L1420.1,3027.1 L1429.4,3028.4 L1438.7,3029.6 L1447.9,3030.8 L1457.2,3032.0 L1466.5,3033.2 L1475.7,3034.4 L1485.0,3035.7 L1494.3,3036.9 L1503.6,3038.1 L1512.8,3039.3 L1522.1,3040.5 L1531.4,3041.7 L1540.6,3043.0 L1549.9,3044.2 L1559.2,3045.4 L1568.5,3046.6 L1577.7,3047.8 L1587.0,3049.0 L1596.3,3050.2 L1605.5,3051.4 L1614.8,3052.6 L1624.1,3053.9 L1633.3,3055.1 L1642.6,3056.3 L1651.9,3057.5 L1661.2,3058.7 L1670.4,3059.9 L1679.7,3061.1 L1689.0,3062.3 L1698.2,3063.5 L1707.5,3064.7 L1716.8,3065.9 L1726.1,3067.1 L1735.3,3068.4 L1744.6,3069.6" fill="none" stroke="#3d3d3d" stroke-width="3.0" stroke-linejoin="round" stroke-linecap="butt"/>
<path d="M273.8,2394.3 L273.8,2394.7 L273.9,2395.1 L273.9,2395.5 L273.9,2396.0 L273.9,2396.4 L274.0,2396.8 L274.0,2397.2 L274.0,2397.7 L274.0,2398.1 L274.1,2398.5 L274.1,2399.0 L274.1,2399.4 L274.2,2399.9 L274.2,2400.3 L274.2,2400.8 L274.3,2401.3 L274.3,2401.7 L274.3,2402.2 L274.4,2402.6 L274.4,2403.1 L274.4,2403.6 L274.4,2404.1 L274.5,2404.6 L274.5,2405.1 L274.5,2405.5 L274.6,2406.0 L274.6,2406.5 L274.6,2407.0 L274.7,2407.5 L274.7,2408.1 L274.7,2408.6 L274.8,2409.1 L274.8,2409.6 L274.9,2410.1 L274.9,2410.7 L274.9,2411.2 L275.0,2411.7 L275.0,2412.3 L275.0,2412.8 L275.1,2413.4 L275.1,2413.9 L275.2,2414.5 L275.2,2415.0 L275.2,2415.6 L275.3,2416.2 L275.3,2416.7 L275.4,2417.3 L275.4,2417.9 L275.4,2418.5 L275.5,2419.1 L275.5,2419.7 L275.6,2420.3 L275.6,2420.9 L275.6,2421.5 L275.7,2422.1 L275.7,2422.7 L275.8,2423.3 L275.8,2423.9 L275.9,2424.6 L275.9,2425.2 L276.0,2425.8 L276.0,2426.5 L276.0,2427.1 L276.1,2427.7 L276.1,2428.4 L276.2,2429.1 L276.2,2429.7 L276.3,2430.4 L276.3,2431.1 L276.4,2431.7 L276.4,2432.4 L276.5,2433.1 L276.5,2433.8 L276.6,2434.5 L276.6,2435.2 L276.7,2435.9 L276.7,2436.6 L276.8,2437.3 L276.8,2438.0 L276.9,2438.7 L277.0,2439.5 L277.0,2440.2 L277.1,2440.9 L277.1,2441.7 L277.2,2442.4 L277.2,2443.2 L277.3,2443.9 L277.3,2444.7 L277.4,2445.4 L277.5,2446.2 L277.5,2447.0 L277.6,2447.8 L277.6,2448.5 L277.7,2449.3 L277.8,2450.1 L277.8,2450.9 L277.9,2451.7 L278.0,2452.5 L278.0,2453.4 L278.1,2454.2 L278.1,2455.0 L278.2,2455.8 L278.3,2456.7 L278.3,2457.5 L278.4,2458.3 L278.5,2459.2 L278.5,2460.0 L278.6,2460.9 L278.7,2461.8 L278.8,2462.6 L278.8,2463.5 L278.9,2464.4 L279.0,2465.3 L279.0,2466.1 L279.1,2467.0 L279.2,2467.9 L279.3,2468.8 L279.3,2469.8 L279.4,2470.7 L279.5,2471.6 L279.6,2472.5 L279.6,2473.4 L279.7,2474.4 L279.8,2475.3 L279.9,2476.3 L280.0,2477.2 L280.0,2478.2 L280.1,2479.1 L280.2,2480.1 L280.3,2481.1 L280.4,2482.0 L280.5,2483.0 L280.6,2484.0 L280.6,2485.0 L280.7,2486.0 L280.8,2487.0 L280.9,2488.0 L281.0,2489.0 L281.1,2490.0 L281.2,2491.0 L281.3,2492.1 L281.4,2493.1 L281.5,2494.1 L281.6,2495.2 L281.6,2496.2 L281.7,2497.3 L281.8,2498.3 L281.9,2499.4 L282.0,2500.4 L282.1,2501.5 L282.2,2502.6 L282.3,2503.7 L282.4,2504.8 L282.6,2505.8 L282.7,2506.9 L282.8,2508.0 L282.9,2509.1 L283.0,2510.3 L283.1,2511.4 L283.2,2512.5 L283.3,2513.6 L283.4,2514.7 L283.5,2515.9 L283.6,2517.0 L283.8,2518.2 L283.9,2519.3 L284.0,2520.5 L284.1,2521.6 L284.2,2522.8 L284.3,2523.9 L284.5,2525.1 L284.6,2526.3 L284.7,2527.5 L284.8,2528.6 L285.0,2529.8 L285.1,2531.0 L285.2,2532.2 L285.3,2533.4 L285.5,2534.6 L285.6,2535.8 L285.7,2537.0 L285.9,2538.3 L286.0,2539.5 L286.1,2540.7 L286.3,2541.9 L286.4,2543.2 L286.5,2544.4 L286.7,2545.7 L286.8,2546.9 L287.0,2548.1 L287.1,2549.4 L287.3,2550.7 L287.4,2551.9 L287.6,2553.2 L287.7,2554.4 L287.9,2555.7 L288.0,2557.0 L288.2,2558.3 L288.3,2559.6 L288.5,2560.8 L288.6,2562.1 L288.8,2563.4 L288.9,2564.7 L289.1,2566.0 L289.3,2567.3 L289.4,2568.6 L289.6,2569.9 L289.8,2571.2 L289.9,2572.5 L290.1,2573.8 L290.3,2575.2 L290.5,2576.5 L290.6,2577.8 L290.8,2579.1 L291.0,2580.5 L291.2,2581.8 L291.3,2583.1 L291.5,2584.4 L291.7,2585.8 L291.9,2587.1 L292.1,2588.5 L292.3,2589.8 L292.5,2591.1 L292.7,2592.5 L292.9,2593.8 L293.0,2595.2 L293.2,2596.5 L293.4,2597.9 L293.6,2599.2 L293.9,2600.6 L294.1,2601.9 L294.3,2603.3 L294.5,2604.7 L294.7,2606.0 L294.9,2607.4 L295.1,2608.7 L295.3,2610.1 L295.5,2611.5 L295.8,2612.8 L296.0,2614.2 L296.2,2615.6 L296.4,2616.9 L296.7,2618.3 L296.9,2619.6 L297.1,2621.0 L297.4,2622.4 L297.6,2623.7 L297.8,2625.1 L298.1,2626.5 L298.3,2627.8 L298.6,2629.2 L298.8,2630.6 L299.1,2631.9 L299.3,2633.3 L299.6,2634.7 L299.8,2636.0 L300.1,2637.4 L300.3,2638.7 L300.6,2640.1 L300.9,2641.5 L301.1,2642.8 L301.4,2644.2 L301.7,2645.5 L302.0,2646.9 L302.2,2648.2 L302.5,2649.6 L302.8,2650.9 L303.1,2652.3 L303.4,2653.6 L303.7,2655.0 L304.0,2656.3 L304.2,2657.6 L304.5,2659.0 L304.8,2660.3 L305.2,2661.6 L305.5,2663.0 L305.8,2664.3 L306.1,2665.6 L306.4,2666.9 L306.7,2668.3 L307.0,2669.6 L307.4,2670.9 L307.7,2672.2 L308.0,2673.5 L308.3,2674.8 L308.7,2676.1 L309.0,2677.4 L309.3,2678.7 L309.7,2680.0 L310.0,2681.3 L310.4,2682.6 L310.7,2683.9 L311.1,2685.2 L311.5,2686.4 L311.8,2687.7 L312.2,2689.0 L312.5,2690.2 L312.9,2691.5 L313.3,2692.7 L313.7,2694.0 L314.1,2695.3 L314.4,2696.5 L314.8,2697.7 L315.2,2699.0 L315.6,2700.2 L316.0,2701.4 L316.4,2702.7 L316.8,2703.9 L317.2,2705.1 L317.6,2706.3 L318.1,2707.5 L318.5,2708.7 L318.9,2709.9 L319.3,2711.1 L319.8,2712.3 L320.2,2713.5 L320.6,2714.6 L321.1,2715.8 L321.5,2717.0 L322.0,2718.1 L322.4,2719.3 L322.9,2720.4 L323.4,2721.6 L323.8,2722.7 L324.3,2723.9 L324.8,2725.0 L325.3,2726.1 L325.8,2727.3 L326.2,2728.4 L326.7,2729.5 L327.2,2730.6 L327.7,2731.7 L328.2,2732.8 L328.8,2733.9" fill="none" stroke="#f27272" stroke-width="2.1" stroke-linejoin="round" />
<path d="M265.5,2865.3 L273.8,2394.3" fill="none" stroke="#f04040" stroke-width="4.6" stroke-linejoin="round" stroke-linecap="round"/>
<path d="M277.9,2451.6h0M282.0,2499.6h0M286.0,2539.9h0M290.1,2574.0h0M294.2,2602.9h0M298.3,2627.6h0M302.4,2648.8h0M306.4,2667.2h0M310.5,2683.1h0M314.6,2697.0h0M318.7,2709.2h0M322.8,2720.1h0M326.8,2729.7h0" fill="none" stroke="#f04040" stroke-width="3.0" stroke-linecap="round"/>
<path d="M327.7,2731.7 L328.2,2732.8 L328.8,2733.9 L329.3,2735.0 L329.8,2736.0 L330.3,2737.1 L330.8,2738.2 L331.4,2739.3 L331.9,2740.3 L332.5,2741.4 L333.0,2742.4 L333.6,2743.5 L334.1,2744.5 L334.7,2745.5 L335.3,2746.6 L335.8,2747.6 L336.4,2748.6 L337.0,2749.6 L337.6,2750.6 L338.2,2751.6 L338.8,2752.6 L339.4,2753.6 L340.0,2754.6 L340.6,2755.6 L341.2,2756.5 L341.9,2757.5 L342.5,2758.5 L343.1,2759.4 L343.8,2760.4 L344.4,2761.3 L345.1,2762.3 L345.7,2763.2 L346.4,2764.2 L347.1,2765.1 L347.8,2766.0 L348.5,2766.9 L349.1,2767.8 L349.8,2768.8 L350.5,2769.7 L351.3,2770.6 L352.0,2771.5 L352.7,2772.3 L353.4,2773.2 L354.2,2774.1 L354.9,2775.0 L355.7,2775.9 L356.4,2776.7 L357.2,2777.6 L357.9,2778.4 L358.7,2779.3 L359.5,2780.1 L360.3,2781.0 L361.1,2781.8 L361.9,2782.7 L362.7,2783.5 L363.5,2784.3 L364.3,2785.1 L365.2,2785.9 L366.0,2786.8 L366.9,2787.6 L367.7,2788.4 L368.6,2789.2 L369.5,2790.0 L370.3,2790.8 L371.2,2791.5 L372.1,2792.3 L373.0,2793.1 L373.9,2793.9 L374.8,2794.6 L375.8,2795.4 L376.7,2796.2 L377.6,2796.9 L378.6,2797.7 L379.6,2798.4 L380.5,2799.2 L381.5,2799.9 L382.5,2800.7 L383.5,2801.4 L384.5,2802.2 L385.5,2802.9 L386.5,2803.6 L387.6,2804.3 L388.6,2805.1 L389.6,2805.8 L390.7,2806.5 L391.8,2807.2 L392.8,2807.9 L393.9,2808.6 L395.0,2809.3 L396.1,2810.0 L397.3,2810.7 L398.4,2811.4 L399.5,2812.1 L400.7,2812.8 L401.8,2813.4 L403.0,2814.1 L404.2,2814.8 L405.3,2815.5 L406.5,2816.1 L407.8,2816.8 L409.0,2817.5 L410.2,2818.1 L411.4,2818.8 L412.7,2819.5 L414.0,2820.1 L415.2,2820.8 L416.5,2821.4 L417.8,2822.1 L419.1,2822.7 L420.5,2823.3 L421.8,2824.0 L423.1,2824.6 L424.5,2825.3 L425.9,2825.9 L427.2,2826.5 L428.6,2827.2 L430.0,2827.8" fill="none" stroke="#f04040" stroke-width="2.6" stroke-linejoin="round" stroke-linecap="round"/>
<path d="M428.6,2827.2 L438.1,2831.2 L447.6,2835.0 L457.0,2838.5 L466.5,2841.8 L476.0,2844.9 L485.4,2847.8 L494.9,2850.6 L504.4,2853.2 L513.8,2855.8 L523.3,2858.2 L532.8,2860.5 L542.2,2862.7 L551.7,2864.8 L561.2,2866.8 L570.6,2868.8 L580.1,2870.7 L589.6,2872.6 L599.0,2874.4 L608.5,2876.1 L618.0,2877.8 L627.4,2879.4 L636.9,2881.0 L646.4,2882.6 L655.8,2884.1 L665.3,2885.6 L674.8,2887.0 L684.2,2888.5 L693.7,2889.8 L703.2,2891.2 L712.6,2892.5 L722.1,2893.8 L731.6,2895.1 L741.1,2896.4 L750.5,2897.6 L760.0,2898.9 L769.5,2900.1 L778.9,2901.2 L788.4,2902.4 L797.9,2903.6 L807.3,2904.7 L816.8,2905.8 L826.3,2906.9 L835.7,2908.1 L845.2,2909.1 L854.7,2910.2 L864.1,2911.3 L873.6,2912.3 L883.1,2913.4 L892.5,2914.4 L902.0,2915.5 L911.5,2916.5 L920.9,2917.5 L930.4,2918.5 L939.9,2919.5 L949.3,2920.5 L958.8,2921.5 L968.3,2922.5 L977.7,2923.5 L987.2,2924.4 L996.7,2925.4 L1006.1,2926.4 L1015.6,2927.3 L1025.1,2928.3 L1034.5,2929.2 L1044.0,2930.2 L1053.5,2931.1 L1062.9,2932.1 L1072.4,2933.0 L1081.9,2934.0 L1091.3,2934.9 L1100.8,2935.8 L1110.3,2936.8 L1119.7,2937.7 L1129.2,2938.6 L1138.7,2939.5 L1148.2,2940.5 L1157.6,2941.4 L1167.1,2942.3 L1176.6,2943.2 L1186.0,2944.1 L1195.5,2945.0 L1205.0,2945.9 L1214.4,2946.9 L1223.9,2947.8 L1233.4,2948.7 L1242.8,2949.6 L1252.3,2950.5 L1261.8,2951.4 L1271.2,2952.3 L1280.7,2953.2 L1290.2,2954.1 L1299.6,2955.0 L1309.1,2955.9 L1318.6,2956.8 L1328.0,2957.7 L1337.5,2958.6 L1347.0,2959.5 L1356.4,2960.4 L1365.9,2961.3 L1375.4,2962.2 L1384.8,2963.1 L1394.3,2964.0 L1403.8,2964.9 L1413.2,2965.8 L1422.7,2966.7 L1432.2,2967.6 L1441.6,2968.5 L1451.1,2969.4 L1460.6,2970.3 L1470.0,2971.2 L1479.5,2972.1 L1489.0,2973.0 L1498.4,2973.9 L1507.9,2974.8 L1517.4,2975.7 L1526.8,2976.5 L1536.3,2977.4 L1545.8,2978.3 L1555.3,2979.2 L1564.7,2980.1 L1574.2,2981.0 L1583.7,2981.9 L1593.1,2982.8 L1602.6,2983.7 L1612.1,2984.6 L1621.5,2985.5 L1631.0,2986.4 L1640.5,2987.3 L1649.9,2988.2 L1659.4,2989.0 L1668.9,2989.9 L1678.3,2990.8 L1687.8,2991.7 L1697.3,2992.6 L1706.7,2993.5 L1716.2,2994.4 L1725.7,2995.3 L1735.1,2996.2 L1744.6,2997.1" fill="none" stroke="#f04040" stroke-width="2.9" stroke-linejoin="round" stroke-linecap="butt"/>
<path d="M273.8,2394.3 L273.8,2394.7 L273.9,2395.1 L273.9,2395.6 L273.9,2396.0 L273.9,2396.4 L274.0,2396.8 L274.0,2397.3 L274.0,2397.7 L274.0,2398.1 L274.1,2398.6 L274.1,2399.0 L274.1,2399.5 L274.2,2399.9 L274.2,2400.4 L274.2,2400.9 L274.3,2401.3 L274.3,2401.8 L274.3,2402.3 L274.4,2402.7 L274.4,2403.2 L274.4,2403.7 L274.4,2404.2 L274.5,2404.7 L274.5,2405.2 L274.5,2405.6 L274.6,2406.1 L274.6,2406.6 L274.6,2407.2 L274.7,2407.7 L274.7,2408.2 L274.7,2408.7 L274.8,2409.2 L274.8,2409.7 L274.9,2410.3 L274.9,2410.8 L274.9,2411.3 L275.0,2411.9 L275.0,2412.4 L275.0,2413.0 L275.1,2413.5 L275.1,2414.1 L275.2,2414.6 L275.2,2415.2 L275.2,2415.8 L275.3,2416.4 L275.3,2416.9 L275.4,2417.5 L275.4,2418.1 L275.4,2418.7 L275.5,2419.3 L275.5,2419.9 L275.6,2420.5 L275.6,2421.1 L275.6,2421.7 L275.7,2422.3 L275.7,2422.9 L275.8,2423.5 L275.8,2424.2 L275.9,2424.8 L275.9,2425.4 L276.0,2426.1 L276.0,2426.7 L276.0,2427.4 L276.1,2428.0 L276.1,2428.7 L276.2,2429.3 L276.2,2430.0 L276.3,2430.7 L276.3,2431.4 L276.4,2432.0 L276.4,2432.7 L276.5,2433.4 L276.5,2434.1 L276.6,2434.8 L276.6,2435.5 L276.7,2436.2 L276.7,2436.9 L276.8,2437.6 L276.8,2438.4 L276.9,2439.1 L277.0,2439.8 L277.0,2440.6 L277.1,2441.3 L277.1,2442.0 L277.2,2442.8 L277.2,2443.5 L277.3,2444.3 L277.3,2445.1 L277.4,2445.8 L277.5,2446.6 L277.5,2447.4 L277.6,2448.2 L277.6,2449.0 L277.7,2449.8 L277.8,2450.6 L277.8,2451.4 L277.9,2452.2 L278.0,2453.0 L278.0,2453.8 L278.1,2454.6 L278.1,2455.4 L278.2,2456.3 L278.3,2457.1 L278.3,2458.0 L278.4,2458.8 L278.5,2459.7 L278.5,2460.5 L278.6,2461.4 L278.7,2462.2 L278.8,2463.1 L278.8,2464.0 L278.9,2464.9 L279.0,2465.8 L279.0,2466.7 L279.1,2467.5 L279.2,2468.5 L279.3,2469.4 L279.3,2470.3 L279.4,2471.2 L279.5,2472.1 L279.6,2473.0 L279.6,2474.0 L279.7,2474.9 L279.8,2475.9 L279.9,2476.8 L280.0,2477.8 L280.0,2478.7 L280.1,2479.7 L280.2,2480.6 L280.3,2481.6 L280.4,2482.6 L280.5,2483.6 L280.6,2484.6 L280.6,2485.6 L280.7,2486.6 L280.8,2487.6 L280.9,2488.6 L281.0,2489.6 L281.1,2490.6 L281.2,2491.6 L281.3,2492.6 L281.4,2493.7 L281.5,2494.7 L281.6,2495.8 L281.6,2496.8 L281.7,2497.9 L281.8,2498.9 L281.9,2500.0 L282.0,2501.0 L282.1,2502.1 L282.2,2503.2 L282.3,2504.3 L282.4,2505.4 L282.6,2506.5 L282.7,2507.6 L282.8,2508.7 L282.9,2509.8 L283.0,2510.9 L283.1,2512.0 L283.2,2513.1 L283.3,2514.2 L283.4,2515.4 L283.5,2516.5 L283.6,2517.6 L283.8,2518.8 L283.9,2519.9 L284.0,2521.1 L284.1,2522.2 L284.2,2523.4 L284.3,2524.5 L284.5,2525.7 L284.6,2526.9 L284.7,2528.1 L284.8,2529.2 L285.0,2530.4 L285.1,2531.6 L285.2,2532.8 L285.3,2534.0 L285.5,2535.2 L285.6,2536.4 L285.7,2537.6 L285.9,2538.8 L286.0,2540.1 L286.1,2541.3 L286.3,2542.5 L286.4,2543.7 L286.5,2545.0 L286.7,2546.2 L286.8,2547.4 L287.0,2548.7 L287.1,2549.9 L287.3,2551.2 L287.4,2552.4 L287.6,2553.7 L287.7,2555.0 L287.9,2556.2 L288.0,2557.5 L288.2,2558.8 L288.3,2560.0 L288.5,2561.3 L288.6,2562.6 L288.8,2563.9 L288.9,2565.2 L289.1,2566.5 L289.3,2567.7 L289.4,2569.0 L289.6,2570.3 L289.8,2571.6 L289.9,2572.9 L290.1,2574.2 L290.3,2575.5 L290.5,2576.9 L290.6,2578.2 L290.8,2579.5 L291.0,2580.8 L291.2,2582.1 L291.3,2583.4 L291.5,2584.7 L291.7,2586.1 L291.9,2587.4 L292.1,2588.7 L292.3,2590.1 L292.5,2591.4 L292.7,2592.7 L292.9,2594.0 L293.0,2595.4 L293.2,2596.7 L293.4,2598.0 L293.6,2599.4 L293.9,2600.7 L294.1,2602.1 L294.3,2603.4 L294.5,2604.7 L294.7,2606.1 L294.9,2607.4 L295.1,2608.8 L295.3,2610.1 L295.5,2611.5 L295.8,2612.8 L296.0,2614.1 L296.2,2615.5 L296.4,2616.8 L296.7,2618.2 L296.9,2619.5 L297.1,2620.9 L297.4,2622.2 L297.6,2623.6 L297.8,2624.9 L298.1,2626.2 L298.3,2627.6 L298.6,2628.9 L298.8,2630.3 L299.1,2631.6 L299.3,2632.9 L299.6,2634.3 L299.8,2635.6 L300.1,2636.9 L300.3,2638.3 L300.6,2639.6 L300.9,2640.9 L301.1,2642.3 L301.4,2643.6 L301.7,2644.9 L302.0,2646.2 L302.2,2647.6 L302.5,2648.9 L302.8,2650.2 L303.1,2651.5 L303.4,2652.8 L303.7,2654.2 L304.0,2655.5 L304.2,2656.8 L304.5,2658.1 L304.8,2659.4 L305.2,2660.7 L305.5,2662.0 L305.8,2663.3 L306.1,2664.6 L306.4,2665.8 L306.7,2667.1 L307.0,2668.4 L307.4,2669.7 L307.7,2671.0 L308.0,2672.2 L308.3,2673.5 L308.7,2674.8 L309.0,2676.0 L309.3,2677.3 L309.7,2678.5 L310.0,2679.8 L310.4,2681.0 L310.7,2682.3 L311.1,2683.5 L311.5,2684.7 L311.8,2686.0 L312.2,2687.2 L312.5,2688.4 L312.9,2689.6 L313.3,2690.9 L313.7,2692.1 L314.1,2693.3 L314.4,2694.5 L314.8,2695.7 L315.2,2696.9 L315.6,2698.0 L316.0,2699.2 L316.4,2700.4 L316.8,2701.6 L317.2,2702.7 L317.6,2703.9 L318.1,2705.1 L318.5,2706.2 L318.9,2707.4 L319.3,2708.5 L319.8,2709.6 L320.2,2710.8 L320.6,2711.9 L321.1,2713.0 L321.5,2714.1 L322.0,2715.2 L322.4,2716.3 L322.9,2717.4 L323.4,2718.5 L323.8,2719.6 L324.3,2720.7 L324.8,2721.8 L325.3,2722.9 L325.8,2723.9 L326.2,2725.0 L326.7,2726.1" fill="none" stroke="#5a96ea" stroke-width="2.1" stroke-linejoin="round" />
<path d="M265.5,2865.3 L273.8,2394.3" fill="none" stroke="#1f6fe0" stroke-width="4.6" stroke-linejoin="round" stroke-linecap="round"/>
<path d="M277.9,2452.0h0M282.0,2500.2h0M286.0,2540.5h0M290.1,2574.4h0M294.2,2603.0h0M298.3,2627.3h0M302.4,2648.2h0M306.4,2666.0h0M310.5,2681.5h0M314.6,2695.0h0M318.7,2706.7h0M322.8,2717.1h0" fill="none" stroke="#1f6fe0" stroke-width="3.0" stroke-linecap="round"/>
<path d="M325.8,2723.9 L326.2,2725.0 L326.7,2726.1 L327.2,2727.1 L327.7,2728.2 L328.2,2729.2 L328.8,2730.2 L329.3,2731.3 L329.8,2732.3 L330.3,2733.3 L330.8,2734.3 L331.4,2735.3 L331.9,2736.3 L332.5,2737.3 L333.0,2738.3 L333.6,2739.3 L334.1,2740.3 L334.7,2741.3 L335.3,2742.2 L335.8,2743.2 L336.4,2744.1 L337.0,2745.1 L337.6,2746.0 L338.2,2747.0 L338.8,2747.9 L339.4,2748.9 L340.0,2749.8 L340.6,2750.7 L341.2,2751.6 L341.9,2752.5 L342.5,2753.4 L343.1,2754.3 L343.8,2755.2 L344.4,2756.1 L345.1,2757.0 L345.7,2757.9 L346.4,2758.7 L347.1,2759.6 L347.8,2760.5 L348.5,2761.3 L349.1,2762.2 L349.8,2763.0 L350.5,2763.9 L351.3,2764.7 L352.0,2765.5 L352.7,2766.4 L353.4,2767.2 L354.2,2768.0 L354.9,2768.8 L355.7,2769.6 L356.4,2770.4 L357.2,2771.2 L357.9,2772.0 L358.7,2772.8 L359.5,2773.6 L360.3,2774.4 L361.1,2775.2 L361.9,2775.9 L362.7,2776.7 L363.5,2777.5 L364.3,2778.2 L365.2,2779.0 L366.0,2779.7 L366.9,2780.5 L367.7,2781.2 L368.6,2781.9 L369.5,2782.7 L370.3,2783.4 L371.2,2784.1 L372.1,2784.8 L373.0,2785.6 L373.9,2786.3 L374.8,2787.0 L375.8,2787.7 L376.7,2788.4 L377.6,2789.1 L378.6,2789.8 L379.6,2790.5 L380.5,2791.1 L381.5,2791.8 L382.5,2792.5 L383.5,2793.2 L384.5,2793.8 L385.5,2794.5 L386.5,2795.2 L387.6,2795.8 L388.6,2796.5 L389.6,2797.1 L390.7,2797.8 L391.8,2798.4 L392.8,2799.1 L393.9,2799.7 L395.0,2800.4 L396.1,2801.0 L397.3,2801.6 L398.4,2802.2 L399.5,2802.9 L400.7,2803.5 L401.8,2804.1 L403.0,2804.7 L404.2,2805.3 L405.3,2805.9 L406.5,2806.6 L407.8,2807.2 L409.0,2807.8 L410.2,2808.3 L411.4,2808.9 L412.7,2809.5 L414.0,2810.1 L415.2,2810.7 L416.5,2811.3 L417.8,2811.9 L419.1,2812.5" fill="none" stroke="#1f6fe0" stroke-width="3.2" stroke-linejoin="round" stroke-linecap="round"/>
<path d="M417.8,2811.9 L427.4,2815.9 L436.9,2819.6 L446.5,2823.0 L456.0,2826.2 L465.5,2829.1 L475.1,2831.8 L484.6,2834.4 L494.2,2836.8 L503.7,2839.1 L513.3,2841.2 L522.8,2843.3 L532.4,2845.2 L541.9,2847.1 L551.5,2848.9 L561.0,2850.6 L570.5,2852.3 L580.1,2853.9 L589.6,2855.4 L599.2,2856.9 L608.7,2858.3 L618.3,2859.7 L627.8,2861.1 L637.4,2862.4 L646.9,2863.7 L656.4,2864.9 L666.0,2866.1 L675.5,2867.3 L685.1,2868.5 L694.6,2869.6 L704.2,2870.7 L713.7,2871.8 L723.3,2872.9 L732.8,2873.9 L742.4,2874.9 L751.9,2875.9 L761.4,2876.9 L771.0,2877.9 L780.5,2878.9 L790.1,2879.8 L799.6,2880.7 L809.2,2881.7 L818.7,2882.6 L828.3,2883.5 L837.8,2884.3 L847.4,2885.2 L856.9,2886.1 L866.4,2886.9 L876.0,2887.8 L885.5,2888.6 L895.1,2889.4 L904.6,2890.2 L914.2,2891.1 L923.7,2891.9 L933.3,2892.7 L942.8,2893.5 L952.4,2894.2 L961.9,2895.0 L971.4,2895.8 L981.0,2896.6 L990.5,2897.3 L1000.1,2898.1 L1009.6,2898.9 L1019.2,2899.6 L1028.7,2900.4 L1038.3,2901.1 L1047.8,2901.9 L1057.3,2902.6 L1066.9,2903.3 L1076.4,2904.1 L1086.0,2904.8 L1095.5,2905.5 L1105.1,2906.3 L1114.6,2907.0 L1124.2,2907.7 L1133.7,2908.4 L1143.3,2909.1 L1152.8,2909.8 L1162.3,2910.6 L1171.9,2911.3 L1181.4,2912.0 L1191.0,2912.7 L1200.5,2913.4 L1210.1,2914.1 L1219.6,2914.8 L1229.2,2915.5 L1238.7,2916.2 L1248.3,2916.9 L1257.8,2917.6 L1267.3,2918.3 L1276.9,2919.0 L1286.4,2919.7 L1296.0,2920.4 L1305.5,2921.1 L1315.1,2921.8 L1324.6,2922.5 L1334.2,2923.2 L1343.7,2923.9 L1353.2,2924.5 L1362.8,2925.2 L1372.3,2925.9 L1381.9,2926.6 L1391.4,2927.3 L1401.0,2928.0 L1410.5,2928.7 L1420.1,2929.4 L1429.6,2930.0 L1439.2,2930.7 L1448.7,2931.4 L1458.2,2932.1 L1467.8,2932.8 L1477.3,2933.5 L1486.9,2934.1 L1496.4,2934.8 L1506.0,2935.5 L1515.5,2936.2 L1525.1,2936.9 L1534.6,2937.5 L1544.2,2938.2 L1553.7,2938.9 L1563.2,2939.6 L1572.8,2940.3 L1582.3,2940.9 L1591.9,2941.6 L1601.4,2942.3 L1611.0,2943.0 L1620.5,2943.7 L1630.1,2944.3 L1639.6,2945.0 L1649.1,2945.7 L1658.7,2946.4 L1668.2,2947.1 L1677.8,2947.7 L1687.3,2948.4 L1696.9,2949.1 L1706.4,2949.8 L1716.0,2950.4 L1725.5,2951.1 L1735.1,2951.8 L1744.6,2952.5" fill="none" stroke="#1f6fe0" stroke-width="3.8" stroke-linejoin="round" stroke-linecap="butt"/>
<path d="M273.8,2394.3 L273.8,2394.7 L273.9,2395.1 L273.9,2395.6 L273.9,2396.0 L273.9,2396.4 L274.0,2396.9 L274.0,2397.3 L274.0,2397.8 L274.0,2398.2 L274.1,2398.6 L274.1,2399.1 L274.1,2399.6 L274.2,2400.0 L274.2,2400.5 L274.2,2400.9 L274.3,2401.4 L274.3,2401.9 L274.3,2402.4 L274.4,2402.8 L274.4,2403.3 L274.4,2403.8 L274.4,2404.3 L274.5,2404.8 L274.5,2405.3 L274.5,2405.8 L274.6,2406.3 L274.6,2406.8 L274.6,2407.3 L274.7,2407.9 L274.7,2408.4 L274.7,2408.9 L274.8,2409.4 L274.8,2410.0 L274.9,2410.5 L274.9,2411.0 L274.9,2411.6 L275.0,2412.1 L275.0,2412.7 L275.0,2413.2 L275.1,2413.8 L275.1,2414.4 L275.2,2414.9 L275.2,2415.5 L275.2,2416.1 L275.3,2416.7 L275.3,2417.2 L275.4,2417.8 L275.4,2418.4 L275.4,2419.0 L275.5,2419.6 L275.5,2420.2 L275.6,2420.8 L275.6,2421.4 L275.6,2422.1 L275.7,2422.7 L275.7,2423.3 L275.8,2423.9 L275.8,2424.6 L275.9,2425.2 L275.9,2425.9 L276.0,2426.5 L276.0,2427.2 L276.0,2427.8 L276.1,2428.5 L276.1,2429.1 L276.2,2429.8 L276.2,2430.5 L276.3,2431.2 L276.3,2431.8 L276.4,2432.5 L276.4,2433.2 L276.5,2433.9 L276.5,2434.6 L276.6,2435.3 L276.6,2436.0 L276.7,2436.8 L276.7,2437.5 L276.8,2438.2 L276.8,2438.9 L276.9,2439.7 L277.0,2440.4 L277.0,2441.1 L277.1,2441.9 L277.1,2442.6 L277.2,2443.4 L277.2,2444.2 L277.3,2444.9 L277.3,2445.7 L277.4,2446.5 L277.5,2447.3 L277.5,2448.0 L277.6,2448.8 L277.6,2449.6 L277.7,2450.4 L277.8,2451.2 L277.8,2452.0 L277.9,2452.8 L278.0,2453.7 L278.0,2454.5 L278.1,2455.3 L278.1,2456.2 L278.2,2457.0 L278.3,2457.8 L278.3,2458.7 L278.4,2459.5 L278.5,2460.4 L278.5,2461.3 L278.6,2462.1 L278.7,2463.0 L278.8,2463.9 L278.8,2464.8 L278.9,2465.7 L279.0,2466.5 L279.0,2467.4 L279.1,2468.3 L279.2,2469.3 L279.3,2470.2 L279.3,2471.1 L279.4,2472.0 L279.5,2472.9 L279.6,2473.9 L279.6,2474.8 L279.7,2475.8 L279.8,2476.7 L279.9,2477.7 L280.0,2478.6 L280.0,2479.6 L280.1,2480.5 L280.2,2481.5 L280.3,2482.5 L280.4,2483.5 L280.5,2484.5 L280.6,2485.5 L280.6,2486.4 L280.7,2487.5 L280.8,2488.5 L280.9,2489.5 L281.0,2490.5 L281.1,2491.5 L281.2,2492.5 L281.3,2493.6 L281.4,2494.6 L281.5,2495.6 L281.6,2496.7 L281.6,2497.7 L281.7,2498.8 L281.8,2499.8 L281.9,2500.9 L282.0,2502.0 L282.1,2503.1 L282.2,2504.1 L282.3,2505.2 L282.4,2506.3 L282.6,2507.4 L282.7,2508.5 L282.8,2509.6 L282.9,2510.7 L283.0,2511.8 L283.1,2512.9 L283.2,2514.0 L283.3,2515.2 L283.4,2516.3 L283.5,2517.4 L283.6,2518.6 L283.8,2519.7 L283.9,2520.8 L284.0,2522.0 L284.1,2523.2 L284.2,2524.3 L284.3,2525.5 L284.5,2526.6 L284.6,2527.8 L284.7,2529.0 L284.8,2530.2 L285.0,2531.3 L285.1,2532.5 L285.2,2533.7 L285.3,2534.9 L285.5,2536.1 L285.6,2537.3 L285.7,2538.5 L285.9,2539.7 L286.0,2540.9 L286.1,2542.1 L286.3,2543.4 L286.4,2544.6 L286.5,2545.8 L286.7,2547.0 L286.8,2548.3 L287.0,2549.5 L287.1,2550.7 L287.3,2552.0 L287.4,2553.2 L287.6,2554.5 L287.7,2555.7 L287.9,2557.0 L288.0,2558.2 L288.2,2559.5 L288.3,2560.8 L288.5,2562.0 L288.6,2563.3 L288.8,2564.6 L288.9,2565.8 L289.1,2567.1 L289.3,2568.4 L289.4,2569.7 L289.6,2570.9 L289.8,2572.2 L289.9,2573.5 L290.1,2574.8 L290.3,2576.1 L290.5,2577.4 L290.6,2578.7 L290.8,2580.0 L291.0,2581.3 L291.2,2582.6 L291.3,2583.9 L291.5,2585.2 L291.7,2586.5 L291.9,2587.8 L292.1,2589.1 L292.3,2590.4 L292.5,2591.7 L292.7,2593.0 L292.9,2594.3 L293.0,2595.6 L293.2,2596.9 L293.4,2598.2 L293.6,2599.6 L293.9,2600.9 L294.1,2602.2 L294.3,2603.5 L294.5,2604.8 L294.7,2606.1 L294.9,2607.4 L295.1,2608.7 L295.3,2610.1 L295.5,2611.4 L295.8,2612.7 L296.0,2614.0 L296.2,2615.3 L296.4,2616.6 L296.7,2617.9 L296.9,2619.2 L297.1,2620.6 L297.4,2621.9 L297.6,2623.2 L297.8,2624.5 L298.1,2625.8 L298.3,2627.1 L298.6,2628.4 L298.8,2629.7 L299.1,2631.0 L299.3,2632.3 L299.6,2633.6 L299.8,2634.9 L300.1,2636.2 L300.3,2637.5 L300.6,2638.8 L300.9,2640.1 L301.1,2641.3 L301.4,2642.6 L301.7,2643.9 L302.0,2645.2 L302.2,2646.5 L302.5,2647.7 L302.8,2649.0 L303.1,2650.3 L303.4,2651.5 L303.7,2652.8 L304.0,2654.1 L304.2,2655.3 L304.5,2656.6 L304.8,2657.8 L305.2,2659.1 L305.5,2660.3 L305.8,2661.6 L306.1,2662.8 L306.4,2664.0 L306.7,2665.3 L307.0,2666.5 L307.4,2667.7 L307.7,2668.9 L308.0,2670.2 L308.3,2671.4 L308.7,2672.6 L309.0,2673.8 L309.3,2675.0 L309.7,2676.2 L310.0,2677.4 L310.4,2678.6 L310.7,2679.7 L311.1,2680.9 L311.5,2682.1 L311.8,2683.3 L312.2,2684.4 L312.5,2685.6 L312.9,2686.7 L313.3,2687.9 L313.7,2689.0 L314.1,2690.2 L314.4,2691.3 L314.8,2692.4 L315.2,2693.6 L315.6,2694.7 L316.0,2695.8 L316.4,2696.9 L316.8,2698.0 L317.2,2699.1 L317.6,2700.2 L318.1,2701.3 L318.5,2702.4 L318.9,2703.5 L319.3,2704.5 L319.8,2705.6 L320.2,2706.7 L320.6,2707.7 L321.1,2708.8 L321.5,2709.8 L322.0,2710.9 L322.4,2711.9 L322.9,2712.9 L323.4,2713.9 L323.8,2715.0 L324.3,2716.0" fill="none" stroke="#5fbd87" stroke-width="2.1" stroke-linejoin="round" />
<path d="M265.5,2865.3 L273.8,2394.3" fill="none" stroke="#2fa862" stroke-width="4.6" stroke-linejoin="round" stroke-linecap="round"/>
<path d="M277.9,2452.7h0M282.0,2501.1h0M286.0,2541.3h0M290.1,2574.9h0M294.2,2603.1h0M298.3,2626.9h0M302.4,2647.0h0M306.4,2664.2h0M310.5,2679.0h0M314.6,2691.8h0M318.7,2702.9h0M322.8,2712.6h0" fill="none" stroke="#2fa862" stroke-width="3.0" stroke-linecap="round"/>
<path d="M323.4,2713.9 L323.8,2715.0 L324.3,2716.0 L324.8,2717.0 L325.3,2718.0 L325.8,2719.0 L326.2,2720.0 L326.7,2721.0 L327.2,2721.9 L327.7,2722.9 L328.2,2723.9 L328.8,2724.8 L329.3,2725.8 L329.8,2726.8 L330.3,2727.7 L330.8,2728.6 L331.4,2729.6 L331.9,2730.5 L332.5,2731.4 L333.0,2732.4 L333.6,2733.3 L334.1,2734.2 L334.7,2735.1 L335.3,2736.0 L335.8,2736.9 L336.4,2737.8 L337.0,2738.6 L337.6,2739.5 L338.2,2740.4 L338.8,2741.2 L339.4,2742.1 L340.0,2743.0 L340.6,2743.8 L341.2,2744.7 L341.9,2745.5 L342.5,2746.3 L343.1,2747.2 L343.8,2748.0 L344.4,2748.8 L345.1,2749.6 L345.7,2750.4 L346.4,2751.2 L347.1,2752.0 L347.8,2752.8 L348.5,2753.6 L349.1,2754.4 L349.8,2755.2 L350.5,2756.0 L351.3,2756.8 L352.0,2757.5 L352.7,2758.3 L353.4,2759.1 L354.2,2759.8 L354.9,2760.6 L355.7,2761.3 L356.4,2762.1 L357.2,2762.8 L357.9,2763.5 L358.7,2764.3 L359.5,2765.0 L360.3,2765.7 L361.1,2766.4 L361.9,2767.1 L362.7,2767.9 L363.5,2768.6 L364.3,2769.3 L365.2,2770.0 L366.0,2770.7 L366.9,2771.4 L367.7,2772.0 L368.6,2772.7 L369.5,2773.4 L370.3,2774.1 L371.2,2774.8 L372.1,2775.4 L373.0,2776.1 L373.9,2776.8 L374.8,2777.4 L375.8,2778.1 L376.7,2778.7 L377.6,2779.4 L378.6,2780.1 L379.6,2780.7 L380.5,2781.3 L381.5,2782.0 L382.5,2782.6 L383.5,2783.3 L384.5,2783.9 L385.5,2784.5 L386.5,2785.1 L387.6,2785.8 L388.6,2786.4 L389.6,2787.0 L390.7,2787.6 L391.8,2788.2 L392.8,2788.8 L393.9,2789.4 L395.0,2790.0 L396.1,2790.6 L397.3,2791.2 L398.4,2791.8 L399.5,2792.4 L400.7,2793.0 L401.8,2793.6 L403.0,2794.2 L404.2,2794.8 L405.3,2795.3 L406.5,2795.9 L407.8,2796.5 L409.0,2797.1 L410.2,2797.6 L411.4,2798.2 L412.7,2798.8 L414.0,2799.3" fill="none" stroke="#2fa862" stroke-width="3.2" stroke-linejoin="round" stroke-linecap="round"/>
<path d="M412.7,2798.8 L422.3,2802.8 L431.9,2806.5 L441.4,2809.9 L451.0,2813.0 L460.6,2815.9 L470.2,2818.5 L479.8,2821.0 L489.4,2823.3 L498.9,2825.4 L508.5,2827.4 L518.1,2829.2 L527.7,2831.0 L537.3,2832.6 L546.8,2834.2 L556.4,2835.6 L566.0,2837.0 L575.6,2838.3 L585.2,2839.6 L594.8,2840.8 L604.3,2841.9 L613.9,2843.0 L623.5,2844.1 L633.1,2845.1 L642.7,2846.1 L652.2,2847.0 L661.8,2847.9 L671.4,2848.8 L681.0,2849.6 L690.6,2850.4 L700.2,2851.2 L709.7,2852.0 L719.3,2852.8 L728.9,2853.5 L738.5,2854.3 L748.1,2855.0 L757.7,2855.7 L767.2,2856.3 L776.8,2857.0 L786.4,2857.7 L796.0,2858.3 L805.6,2858.9 L815.1,2859.6 L824.7,2860.2 L834.3,2860.8 L843.9,2861.4 L853.5,2862.0 L863.1,2862.6 L872.6,2863.1 L882.2,2863.7 L891.8,2864.3 L901.4,2864.8 L911.0,2865.4 L920.5,2865.9 L930.1,2866.5 L939.7,2867.0 L949.3,2867.6 L958.9,2868.1 L968.5,2868.6 L978.0,2869.2 L987.6,2869.7 L997.2,2870.2 L1006.8,2870.7 L1016.4,2871.2 L1025.9,2871.8 L1035.5,2872.3 L1045.1,2872.8 L1054.7,2873.3 L1064.3,2873.8 L1073.9,2874.3 L1083.4,2874.8 L1093.0,2875.3 L1102.6,2875.8 L1112.2,2876.3 L1121.8,2876.8 L1131.4,2877.3 L1140.9,2877.7 L1150.5,2878.2 L1160.1,2878.7 L1169.7,2879.2 L1179.3,2879.7 L1188.8,2880.2 L1198.4,2880.7 L1208.0,2881.1 L1217.6,2881.6 L1227.2,2882.1 L1236.8,2882.6 L1246.3,2883.1 L1255.9,2883.5 L1265.5,2884.0 L1275.1,2884.5 L1284.7,2885.0 L1294.2,2885.5 L1303.8,2885.9 L1313.4,2886.4 L1323.0,2886.9 L1332.6,2887.3 L1342.2,2887.8 L1351.7,2888.3 L1361.3,2888.8 L1370.9,2889.2 L1380.5,2889.7 L1390.1,2890.2 L1399.6,2890.6 L1409.2,2891.1 L1418.8,2891.6 L1428.4,2892.1 L1438.0,2892.5 L1447.6,2893.0 L1457.1,2893.5 L1466.7,2893.9 L1476.3,2894.4 L1485.9,2894.9 L1495.5,2895.3 L1505.0,2895.8 L1514.6,2896.3 L1524.2,2896.7 L1533.8,2897.2 L1543.4,2897.7 L1553.0,2898.1 L1562.5,2898.6 L1572.1,2899.0 L1581.7,2899.5 L1591.3,2900.0 L1600.9,2900.4 L1610.5,2900.9 L1620.0,2901.4 L1629.6,2901.8 L1639.2,2902.3 L1648.8,2902.8 L1658.4,2903.2 L1667.9,2903.7 L1677.5,2904.1 L1687.1,2904.6 L1696.7,2905.1 L1706.3,2905.5 L1715.9,2906.0 L1725.4,2906.5 L1735.0,2906.9 L1744.6,2907.4" fill="none" stroke="#2fa862" stroke-width="3.8" stroke-linejoin="round" stroke-linecap="butt"/>
<circle cx="306.2" cy="2669.5" r="15.4" fill="none" stroke="#111" stroke-width="1.3"/>
<line x1="197.3" y1="1916.8" x2="197.3" y2="3182.9" stroke="#0a0a0a" stroke-width="4.8" />
<line x1="194.9" y1="3180.5" x2="1764.1" y2="3180.5" stroke="#0a0a0a" stroke-width="4.8" />
<line x1="197.3" y1="3022.9" x2="211.0" y2="3022.9" stroke="#0a0a0a" stroke-width="4.5" />
<line x1="197.3" y1="2865.3" x2="221.7" y2="2865.3" stroke="#0a0a0a" stroke-width="4.5" />
<line x1="197.3" y1="2707.7" x2="211.0" y2="2707.7" stroke="#0a0a0a" stroke-width="4.5" />
<line x1="197.3" y1="2550.1" x2="221.7" y2="2550.1" stroke="#0a0a0a" stroke-width="4.5" />
<line x1="197.3" y1="2392.5" x2="211.0" y2="2392.5" stroke="#0a0a0a" stroke-width="4.5" />
<line x1="197.3" y1="2234.9" x2="221.7" y2="2234.9" stroke="#0a0a0a" stroke-width="4.5" />
<line x1="197.3" y1="2077.3" x2="211.0" y2="2077.3" stroke="#0a0a0a" stroke-width="4.5" />
<line x1="197.3" y1="1919.7" x2="221.7" y2="1919.7" stroke="#0a0a0a" stroke-width="4.5" />
<line x1="265.5" y1="3180.5" x2="265.5" y2="3154.8" stroke="#0a0a0a" stroke-width="4.5" />
<line x1="401.6" y1="3180.5" x2="401.6" y2="3167.8" stroke="#0a0a0a" stroke-width="4.5" />
<line x1="537.6" y1="3180.5" x2="537.6" y2="3154.8" stroke="#0a0a0a" stroke-width="4.5" />
<line x1="673.7" y1="3180.5" x2="673.7" y2="3167.8" stroke="#0a0a0a" stroke-width="4.5" />
<line x1="809.7" y1="3180.5" x2="809.7" y2="3154.8" stroke="#0a0a0a" stroke-width="4.5" />
<line x1="945.8" y1="3180.5" x2="945.8" y2="3167.8" stroke="#0a0a0a" stroke-width="4.5" />
<line x1="1081.8" y1="3180.5" x2="1081.8" y2="3154.8" stroke="#0a0a0a" stroke-width="4.5" />
<line x1="1217.8" y1="3180.5" x2="1217.8" y2="3167.8" stroke="#0a0a0a" stroke-width="4.5" />
<line x1="1353.9" y1="3180.5" x2="1353.9" y2="3154.8" stroke="#0a0a0a" stroke-width="4.5" />
<line x1="1490.0" y1="3180.5" x2="1490.0" y2="3167.8" stroke="#0a0a0a" stroke-width="4.5" />
<line x1="1626.0" y1="3180.5" x2="1626.0" y2="3154.8" stroke="#0a0a0a" stroke-width="4.5" />
<line x1="1762.1" y1="3180.5" x2="1762.1" y2="3167.8" stroke="#0a0a0a" stroke-width="4.5" />
<text transform="translate(0,3201.45) scale(0.9672,1)" x="147.65" font-size="54.69" fill="#262626" stroke="#fff" stroke-width="0.6">0</text>
<text transform="translate(0,2886.25) scale(0.9672,1)" x="147.22" font-size="54.69" fill="#262626" stroke="#fff" stroke-width="0.6">5</text>
<text transform="translate(0,2571.05) scale(0.9672,1)" x="119.29 147.65" font-size="54.69" fill="#262626" stroke="#fff" stroke-width="0.6">10</text>
<text transform="translate(0,2255.85) scale(0.9672,1)" x="119.29 147.22" font-size="54.69" fill="#262626" stroke="#fff" stroke-width="0.6">15</text>
<text transform="translate(0,1940.65) scale(0.9672,1)" x="120.58 147.65" font-size="54.69" fill="#262626" stroke="#fff" stroke-width="0.6">20</text>
<text transform="translate(0,3250.95) scale(0.9672,1)" x="260.84" font-size="54.69" fill="#262626" stroke="#fff" stroke-width="0.6">0</text>
<text transform="translate(0,3250.95) scale(0.9672,1)" x="472.81 499.88 530.61 554.89 582.39 609.89" font-size="54.69" fill="#262626" stroke="#fff" stroke-width="0.6">20,000</text>
<text transform="translate(0,3250.95) scale(0.9672,1)" x="753.71 781.21 811.94 836.22 863.72 891.23" font-size="54.69" fill="#262626" stroke="#fff" stroke-width="0.6">40,000</text>
<text transform="translate(0,3250.95) scale(0.9672,1)" x="1034.62 1062.55 1093.27 1117.55 1145.06 1172.56" font-size="54.69" fill="#262626" stroke="#fff" stroke-width="0.6">60,000</text>
<text transform="translate(0,3250.95) scale(0.9672,1)" x="1316.38 1343.88 1374.61 1398.89 1426.39 1453.89" font-size="54.69" fill="#262626" stroke="#fff" stroke-width="0.6">80,000</text>
<text transform="translate(0,3250.95) scale(0.9672,1)" x="1583.11 1611.46 1638.97 1669.69 1693.97 1721.47 1748.98" font-size="54.69" fill="#262626" stroke="#fff" stroke-width="0.6">100,000</text>
<text transform="rotate(-90) translate(-2771.87,88.00) scale(0.9670,1)" font-size="70.50" letter-spacing="-1.115" fill="#111" >Temperature(°C)</text>
<text transform="translate(877.46,3341.60) scale(0.9867,1)" font-size="67.50" letter-spacing="-0.462" fill="#111" >Time(s)</text>
<text transform="translate(441.55,2732.00) scale(0.9924,1)" font-size="59.50" letter-spacing="-0.188" fill="#111" >Insulation stage</text>
<line x1="642.3" y1="1922" x2="642.3" y2="2094" stroke="#f8f8f8" stroke-width="1.2"/>
<line x1="652.0" y1="1967.3" x2="799.0" y2="1967.3" stroke="#8c8c8c" stroke-width="2.3" />
<line x1="722.5" y1="1967.3" x2="728.5" y2="1967.3" stroke="#4a4a4a" stroke-width="2.6" />
<text transform="translate(815.19,1990.00) scale(0.9455,1)" font-size="68.50" letter-spacing="-3.912" fill="#111" >T1</text>
<line x1="887.0" y1="1967.3" x2="1034.0" y2="1967.3" stroke="#f39090" stroke-width="2.3" />
<line x1="957.5" y1="1967.3" x2="963.5" y2="1967.3" stroke="#e64040" stroke-width="2.6" />
<text transform="translate(1049.46,1990.00) scale(0.9714,1)" font-size="68.50" letter-spacing="-1.530" fill="#111" >T13</text>
<line x1="1156.0" y1="1967.3" x2="1301.5" y2="1967.3" stroke="#80acee" stroke-width="2.3" />
<line x1="1225.8" y1="1967.3" x2="1231.8" y2="1967.3" stroke="#3a7ade" stroke-width="2.6" />
<text transform="translate(1319.06,1990.00) scale(0.9695,1)" font-size="68.50" letter-spacing="-1.633" fill="#111" >T25</text>
<line x1="1422.7" y1="1967.3" x2="1571.0" y2="1967.3" stroke="#80caa2" stroke-width="2.3" />
<line x1="1493.8" y1="1967.3" x2="1499.8" y2="1967.3" stroke="#2f9f5f" stroke-width="2.6" />
<text transform="translate(1586.05,1990.00) scale(0.9799,1)" font-size="68.50" letter-spacing="-1.086" fill="#111" >T37</text>
<line x1="652.0" y1="2048.0" x2="799.0" y2="2048.0" stroke="#dddddd" stroke-width="3.4" />
<circle cx="724.8" cy="2048.0" r="17.8" fill="#fff"/>
<circle cx="724.8" cy="2048.0" r="14.6" fill="#fff" stroke="#333" stroke-width="1.5"/>
<text transform="translate(816.20,2069.20) scale(0.9363,1)" font-size="68.50" letter-spacing="0.000" fill="#111" >A</text>
<line x1="305.8" y1="2147.2" x2="855.0" y2="2147.2" stroke="#6e6e6e" stroke-width="2.2" />
<path d="M871,2147.2 L851,2138 L851,2156.4 Z" fill="#111"/>
<path d="M1018.6,2592.3 L1024.7,2587.1 L1030.8,2582.0 L1036.9,2576.9 L1043.0,2571.9 L1049.1,2567.0 L1055.2,2562.1 L1061.3,2557.3 L1067.4,2552.5 L1073.4,2547.8 L1079.5,2543.2 L1085.6,2538.6 L1091.7,2534.1 L1097.8,2529.6 L1103.9,2525.2 L1110.0,2520.8 L1116.1,2516.5 L1122.2,2512.3 L1128.3,2508.1 L1134.4,2504.0 L1140.5,2499.9 L1146.6,2495.9 L1152.7,2491.9 L1158.8,2488.0 L1164.9,2484.1 L1171.0,2480.3 L1177.1,2476.5 L1183.1,2472.8 L1189.2,2469.1 L1195.3,2465.5 L1201.4,2461.9 L1207.5,2458.3 L1213.6,2454.8 L1219.7,2451.4 L1225.8,2448.0 L1231.9,2444.6 L1238.0,2441.3 L1244.1,2438.0 L1250.2,2434.8 L1256.3,2431.6 L1262.4,2428.4 L1268.5,2425.3 L1274.6,2422.2 L1280.7,2419.2 L1286.8,2416.2 L1292.8,2413.2 L1298.9,2410.3 L1305.0,2407.4 L1311.1,2404.6 L1317.2,2401.8 L1323.3,2399.0 L1329.4,2396.2 L1335.5,2393.5 L1341.6,2390.9 L1347.7,2388.2 L1353.8,2385.6 L1359.9,2383.1 L1366.0,2380.5 L1372.1,2378.0 L1378.2,2375.5 L1384.3,2373.1 L1390.4,2370.7 L1396.5,2368.3 L1402.5,2366.0 L1408.6,2363.7 L1414.7,2361.4 L1420.8,2359.1 L1426.9,2356.9 L1433.0,2354.7 L1439.1,2352.5 L1445.2,2350.3 L1451.3,2348.2 L1457.4,2346.1 L1463.5,2344.1 L1469.6,2342.0 L1475.7,2340.0 L1481.8,2338.0 L1487.9,2336.1 L1494.0,2334.1 L1500.1,2332.2 L1506.2,2330.3 L1512.2,2328.5 L1518.3,2326.6 L1524.4,2324.8 L1530.5,2323.0 L1536.6,2321.2 L1542.7,2319.5 L1548.8,2317.8 L1554.9,2316.1 L1561.0,2314.4" fill="none" stroke="#2a7fd8" stroke-width="3.2" stroke-linejoin="round" stroke-linecap="round"/>
<path d="M1018.6,2592.3 L1024.7,2587.1 L1030.8,2582.0 L1036.9,2576.9 L1043.0,2571.9 L1049.1,2567.0 L1055.2,2562.1 L1061.3,2557.3 L1067.4,2552.5 L1073.4,2547.8 L1079.5,2543.2 L1085.6,2538.6 L1091.7,2534.1 L1097.8,2529.6 L1103.9,2525.2 L1110.0,2520.8 L1116.1,2516.5 L1122.2,2512.3 L1128.3,2508.1 L1134.4,2504.0 L1140.5,2499.9 L1146.6,2495.9 L1152.7,2491.9 L1158.8,2488.0 L1164.9,2484.1 L1171.0,2480.3 L1177.1,2476.5 L1183.1,2472.8 L1189.2,2469.1 L1195.3,2465.5 L1201.4,2461.9 L1207.5,2458.3 L1213.6,2454.8 L1219.7,2451.4 L1225.8,2448.0 L1231.9,2444.6 L1238.0,2441.3 L1244.1,2438.0 L1250.2,2434.8 L1256.3,2431.6 L1262.4,2428.4 L1268.5,2425.3 L1274.6,2422.2 L1280.7,2419.2 L1286.8,2416.2 L1292.8,2413.2 L1298.9,2410.3 L1305.0,2407.4 L1311.1,2404.6 L1317.2,2401.8 L1323.3,2399.0 L1329.4,2396.2 L1335.5,2393.5 L1341.6,2390.9 L1347.7,2388.2 L1353.8,2385.6 L1359.9,2383.1 L1366.0,2380.5 L1372.1,2378.0 L1378.2,2375.5 L1384.3,2373.1 L1390.4,2370.7 L1396.5,2368.3 L1402.5,2366.0 L1408.6,2363.7 L1414.7,2361.4 L1420.8,2359.1 L1426.9,2356.9 L1433.0,2354.7 L1439.1,2352.5 L1445.2,2350.3 L1451.3,2348.2 L1457.4,2346.1 L1463.5,2344.1 L1469.6,2342.0 L1475.7,2340.0 L1481.8,2338.0 L1487.9,2336.1 L1494.0,2334.1 L1500.1,2332.2 L1506.2,2330.3 L1512.2,2328.5 L1518.3,2326.6 L1524.4,2324.8 L1530.5,2323.0 L1536.6,2321.2 L1542.7,2319.5 L1548.8,2317.8 L1554.9,2316.1 L1561.0,2314.4" fill="none" stroke="#32ab66" stroke-width="2.7" stroke-linejoin="round" stroke-linecap="round"/>
<line x1="975.5" y1="2109.0" x2="975.5" y2="2630.5" stroke="#a4a4a4" stroke-width="2.2" />
<line x1="974.4" y1="2629.3" x2="1622.0" y2="2629.3" stroke="#2f2f2f" stroke-width="2.8" />
<line x1="975.5" y1="2592.3" x2="979.6" y2="2592.3" stroke="#555" stroke-width="2.0" />
<line x1="975.5" y1="2555.2" x2="984.7" y2="2555.2" stroke="#777" stroke-width="2.0" />
<line x1="975.5" y1="2518.1" x2="979.6" y2="2518.1" stroke="#555" stroke-width="2.0" />
<line x1="975.5" y1="2480.9" x2="984.7" y2="2480.9" stroke="#777" stroke-width="2.0" />
<line x1="975.5" y1="2443.8" x2="979.6" y2="2443.8" stroke="#555" stroke-width="2.0" />
<line x1="975.5" y1="2406.6" x2="984.7" y2="2406.6" stroke="#777" stroke-width="2.0" />
<line x1="975.5" y1="2369.4" x2="979.6" y2="2369.4" stroke="#555" stroke-width="2.0" />
<line x1="975.5" y1="2332.3" x2="984.7" y2="2332.3" stroke="#777" stroke-width="2.0" />
<line x1="975.5" y1="2295.2" x2="979.6" y2="2295.2" stroke="#555" stroke-width="2.0" />
<line x1="975.5" y1="2258.0" x2="984.7" y2="2258.0" stroke="#777" stroke-width="2.0" />
<line x1="975.5" y1="2220.8" x2="979.6" y2="2220.8" stroke="#555" stroke-width="2.0" />
<line x1="975.5" y1="2183.7" x2="984.7" y2="2183.7" stroke="#777" stroke-width="2.0" />
<line x1="975.5" y1="2146.6" x2="979.6" y2="2146.6" stroke="#555" stroke-width="2.0" />
<line x1="975.5" y1="2109.4" x2="984.7" y2="2109.4" stroke="#777" stroke-width="2.0" />
<line x1="1018.6" y1="2629.3" x2="1018.6" y2="2620.2" stroke="#3a3a3a" stroke-width="2.0" />
<line x1="1061.6" y1="2629.3" x2="1061.6" y2="2625.4" stroke="#3a3a3a" stroke-width="2.0" />
<line x1="1104.6" y1="2629.3" x2="1104.6" y2="2620.2" stroke="#3a3a3a" stroke-width="2.0" />
<line x1="1147.7" y1="2629.3" x2="1147.7" y2="2625.4" stroke="#3a3a3a" stroke-width="2.0" />
<line x1="1190.7" y1="2629.3" x2="1190.7" y2="2620.2" stroke="#3a3a3a" stroke-width="2.0" />
<line x1="1233.7" y1="2629.3" x2="1233.7" y2="2625.4" stroke="#3a3a3a" stroke-width="2.0" />
<line x1="1276.7" y1="2629.3" x2="1276.7" y2="2620.2" stroke="#3a3a3a" stroke-width="2.0" />
<line x1="1319.7" y1="2629.3" x2="1319.7" y2="2625.4" stroke="#3a3a3a" stroke-width="2.0" />
<line x1="1362.8" y1="2629.3" x2="1362.8" y2="2620.2" stroke="#3a3a3a" stroke-width="2.0" />
<line x1="1405.8" y1="2629.3" x2="1405.8" y2="2625.4" stroke="#3a3a3a" stroke-width="2.0" />
<line x1="1448.8" y1="2629.3" x2="1448.8" y2="2620.2" stroke="#3a3a3a" stroke-width="2.0" />
<line x1="1491.8" y1="2629.3" x2="1491.8" y2="2625.4" stroke="#3a3a3a" stroke-width="2.0" />
<line x1="1534.8" y1="2629.3" x2="1534.8" y2="2620.2" stroke="#3a3a3a" stroke-width="2.0" />
<line x1="1577.9" y1="2629.3" x2="1577.9" y2="2625.4" stroke="#3a3a3a" stroke-width="2.0" />
<line x1="1620.9" y1="2629.3" x2="1620.9" y2="2620.2" stroke="#3a3a3a" stroke-width="2.0" />
<text transform="translate(0,2637.95) scale(0.9174,1)" x="1037.46" font-size="22.11" fill="#5c5c5c" stroke="#fff" stroke-width="0.1">4</text>
<text transform="translate(0,2563.65) scale(0.9174,1)" x="1037.29" font-size="22.11" fill="#5c5c5c" stroke="#fff" stroke-width="0.1">6</text>
<text transform="translate(0,2489.35) scale(0.9174,1)" x="1037.46" font-size="22.11" fill="#5c5c5c" stroke="#fff" stroke-width="0.1">8</text>
<text transform="translate(0,2415.05) scale(0.9174,1)" x="1026.00 1037.46" font-size="22.11" fill="#5c5c5c" stroke="#fff" stroke-width="0.1">10</text>
<text transform="translate(0,2340.75) scale(0.9174,1)" x="1026.00 1037.63" font-size="22.11" fill="#5c5c5c" stroke="#fff" stroke-width="0.1">12</text>
<text transform="translate(0,2266.45) scale(0.9174,1)" x="1026.00 1037.46" font-size="22.11" fill="#5c5c5c" stroke="#fff" stroke-width="0.1">14</text>
<text transform="translate(0,2192.15) scale(0.9174,1)" x="1026.00 1037.29" font-size="22.11" fill="#5c5c5c" stroke="#fff" stroke-width="0.1">16</text>
<text transform="translate(0,2117.85) scale(0.9174,1)" x="1026.00 1037.46" font-size="22.11" fill="#5c5c5c" stroke="#fff" stroke-width="0.1">18</text>
<text transform="translate(0,2658.25) scale(0.9174,1)" x="1104.21" font-size="22.11" fill="#5c5c5c" stroke="#fff" stroke-width="0.1">0</text>
<text transform="translate(0,2658.25) scale(0.9174,1)" x="1186.53 1197.99 1209.11" font-size="22.11" fill="#5c5c5c" stroke="#fff" stroke-width="0.1">100</text>
<text transform="translate(0,2658.25) scale(0.9174,1)" x="1280.83 1291.78 1302.90" font-size="22.11" fill="#5c5c5c" stroke="#fff" stroke-width="0.1">200</text>
<text transform="translate(0,2658.25) scale(0.9174,1)" x="1374.27 1385.56 1396.68" font-size="22.11" fill="#5c5c5c" stroke="#fff" stroke-width="0.1">300</text>
<text transform="translate(0,2658.25) scale(0.9174,1)" x="1468.23 1479.35 1490.46" font-size="22.11" fill="#5c5c5c" stroke="#fff" stroke-width="0.1">400</text>
<text transform="translate(0,2658.25) scale(0.9174,1)" x="1561.84 1573.13 1584.25" font-size="22.11" fill="#5c5c5c" stroke="#fff" stroke-width="0.1">500</text>
<text transform="translate(0,2658.25) scale(0.9174,1)" x="1655.62 1666.91 1678.03" font-size="22.11" fill="#5c5c5c" stroke="#fff" stroke-width="0.1">600</text>
<text transform="translate(0,2658.25) scale(0.9174,1)" x="1749.06 1760.70 1771.82" font-size="22.11" fill="#5c5c5c" stroke="#fff" stroke-width="0.1">700</text>
<text transform="rotate(-90) translate(-2463.83,930.20) scale(1.0001,1)" font-size="27.50" letter-spacing="0.001" fill="#444" >Temperature(°C)</text>
<text transform="translate(1255.59,2695.60) scale(1.0344,1)" font-size="25.50" letter-spacing="0.450" fill="#444" >Time(s)</text>
<text transform="translate(1094.07,2164.20) scale(0.9921,1)" font-size="60.00" letter-spacing="-0.216" fill="#111" >Heating stage</text>
<text x="936.7" y="3564.9" text-anchor="middle" font-size="82" letter-spacing="-1" fill="#000">(<tspan font-weight="bold">c</tspan>)</text>
</g>
</svg>
</body>
</html>
